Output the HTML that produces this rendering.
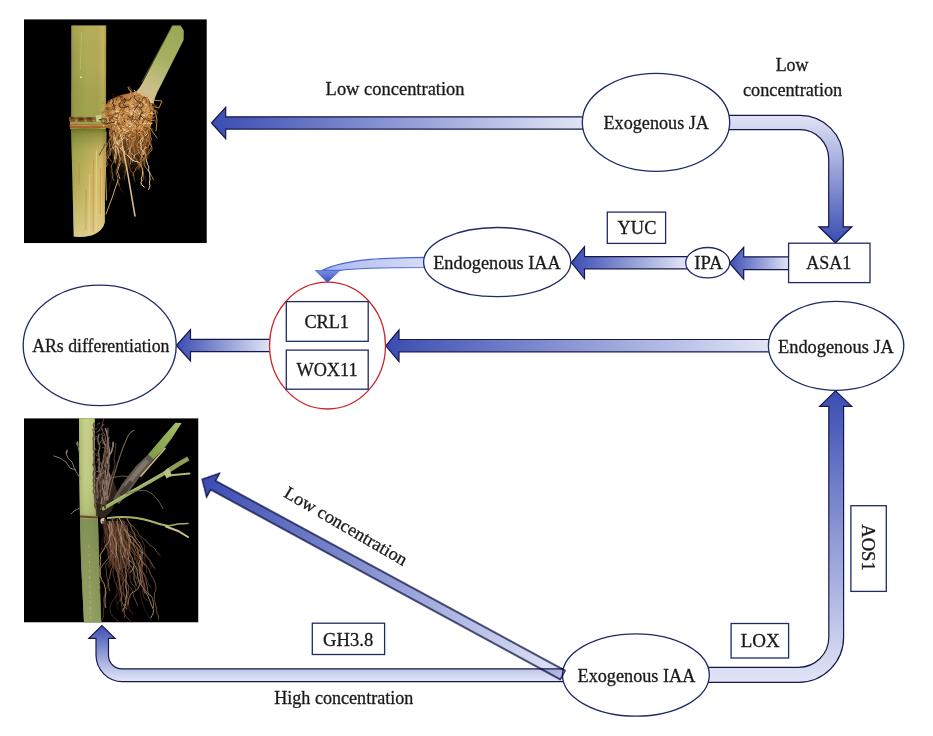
<!DOCTYPE html>
<html>
<head>
<meta charset="utf-8">
<title>JA and IAA crosstalk in adventitious root differentiation</title>
<style>
html,body{margin:0;padding:0;background:#fff;}
body{width:933px;height:736px;overflow:hidden;}
svg{display:block;will-change:transform;}
text{font-family:"Liberation Serif",serif;font-size:18.1px;fill:#1a1a1a;stroke:#1a1a1a;stroke-width:0.3px;}
.sh{stroke:#15184c;stroke-width:1.2;stroke-linejoin:miter;}
.ol{fill:#fff;stroke:#1f2a66;stroke-width:1.3;}
</style>
</head>
<body>
<svg width="933" height="736" viewBox="0 0 933 736">
<defs>
  <linearGradient id="gA" gradientUnits="userSpaceOnUse" x1="211" y1="0" x2="583" y2="0">
    <stop offset="0" stop-color="#3a4cb2"/><stop offset="1" stop-color="#e2e5f6"/>
  </linearGradient>
  <linearGradient id="gB" gradientUnits="userSpaceOnUse" x1="0" y1="115" x2="0" y2="243">
    <stop offset="0" stop-color="#e2e5f6"/><stop offset="1" stop-color="#3a4cb2"/>
  </linearGradient>
  <linearGradient id="gC" gradientUnits="userSpaceOnUse" x1="729" y1="0" x2="789" y2="0">
    <stop offset="0" stop-color="#3a4cb2"/><stop offset="1" stop-color="#e2e5f6"/>
  </linearGradient>
  <linearGradient id="gD" gradientUnits="userSpaceOnUse" x1="571" y1="0" x2="686" y2="0">
    <stop offset="0" stop-color="#3a4cb2"/><stop offset="1" stop-color="#e2e5f6"/>
  </linearGradient>
  <linearGradient id="gE" gradientUnits="userSpaceOnUse" x1="322" y1="0" x2="424" y2="0">
    <stop offset="0" stop-color="#a9b5ec"/><stop offset="0.35" stop-color="#bcc5f0"/><stop offset="1" stop-color="#d6dbf6"/>
  </linearGradient>
  <linearGradient id="gE2" gradientUnits="userSpaceOnUse" x1="0" y1="270" x2="0" y2="282">
    <stop offset="0" stop-color="#7f92e4"/><stop offset="1" stop-color="#3a50c4"/>
  </linearGradient>
  <linearGradient id="gF" gradientUnits="userSpaceOnUse" x1="385" y1="0" x2="769" y2="0">
    <stop offset="0" stop-color="#3a4cb2"/><stop offset="1" stop-color="#e2e5f6"/>
  </linearGradient>
  <linearGradient id="gG" gradientUnits="userSpaceOnUse" x1="176" y1="0" x2="270" y2="0">
    <stop offset="0" stop-color="#3a4cb2"/><stop offset="1" stop-color="#e2e5f6"/>
  </linearGradient>
  <linearGradient id="gH" gradientUnits="userSpaceOnUse" x1="0" y1="391" x2="0" y2="683">
    <stop offset="0" stop-color="#3a4cb2"/><stop offset="1" stop-color="#e2e5f6"/>
  </linearGradient>
  <linearGradient id="gI" gradientUnits="userSpaceOnUse" x1="0" y1="625" x2="0" y2="681">
    <stop offset="0" stop-color="#3a4cb2"/><stop offset="1" stop-color="#e2e5f6"/>
  </linearGradient>
  <linearGradient id="gJ" gradientUnits="userSpaceOnUse" x1="0" y1="0" x2="411" y2="0">
    <stop offset="0" stop-color="#3a4cb2"/><stop offset="1" stop-color="#e2e5f6"/>
  </linearGradient>
<!-- PDEFS -->
  <filter id="soft" x="-5%" y="-5%" width="110%" height="110%" color-interpolation-filters="sRGB"><feGaussianBlur stdDeviation="0.45"/></filter>
  <clipPath id="cp1"><rect x="24" y="19.2" width="182.85" height="224"/></clipPath>
  <clipPath id="cp2"><rect x="24" y="418.2" width="174.5" height="204.35"/></clipPath>
  <linearGradient id="st1h" gradientUnits="userSpaceOnUse" x1="71" y1="0" x2="106.3" y2="0">
    <stop offset="0" stop-color="#8a8840"/><stop offset="0.1" stop-color="#9c9c4a"/><stop offset="0.45" stop-color="#aeac58"/><stop offset="0.75" stop-color="#b0a856"/><stop offset="0.92" stop-color="#c6b466"/><stop offset="1" stop-color="#a08a3c"/>
  </linearGradient>
  <linearGradient id="st1v" gradientUnits="userSpaceOnUse" x1="0" y1="25" x2="0" y2="118">
    <stop offset="0" stop-color="#c4b25a" stop-opacity=".4"/><stop offset="0.35" stop-color="#b0ac58" stop-opacity=".1"/><stop offset="0.7" stop-color="#8c9440" stop-opacity=".3"/><stop offset="1" stop-color="#8c9440" stop-opacity=".4"/>
  </linearGradient>
  <linearGradient id="st1lh" gradientUnits="userSpaceOnUse" x1="71" y1="0" x2="105.5" y2="0">
    <stop offset="0" stop-color="#9a9848"/><stop offset="0.12" stop-color="#a8a652"/><stop offset="0.4" stop-color="#bdb25c"/><stop offset="0.65" stop-color="#d2b866"/><stop offset="0.88" stop-color="#dec272"/><stop offset="1" stop-color="#b8944a"/>
  </linearGradient>
  <linearGradient id="st1lv" gradientUnits="userSpaceOnUse" x1="0" y1="128" x2="0" y2="237">
    <stop offset="0" stop-color="#566018" stop-opacity=".85"/><stop offset="0.05" stop-color="#707a2c" stop-opacity=".7"/><stop offset="0.2" stop-color="#969a46" stop-opacity=".4"/><stop offset="0.45" stop-color="#c8b460" stop-opacity=".15"/><stop offset="0.7" stop-color="#d8c47a" stop-opacity=".5"/><stop offset="1" stop-color="#e2d092" stop-opacity=".85"/>
  </linearGradient>
  <linearGradient id="br1" gradientUnits="userSpaceOnUse" x1="180" y1="26" x2="145" y2="98">
    <stop offset="0" stop-color="#9aa856"/><stop offset="0.45" stop-color="#a5b060"/><stop offset="0.8" stop-color="#c6bd84"/><stop offset="1" stop-color="#d2bf8e"/>
  </linearGradient>
  <radialGradient id="rb1" gradientUnits="userSpaceOnUse" cx="132" cy="114" r="27">
    <stop offset="0" stop-color="#d29c60"/><stop offset="0.7" stop-color="#b87c40"/><stop offset="1" stop-color="#8e5a26"/>
  </radialGradient>
  <linearGradient id="rbf" gradientUnits="userSpaceOnUse" x1="0" y1="130" x2="0" y2="178">
    <stop offset="0" stop-color="#a87038" stop-opacity=".85"/><stop offset="0.45" stop-color="#90602c" stop-opacity=".5"/><stop offset="1" stop-color="#805020" stop-opacity="0"/>
  </linearGradient>
  <linearGradient id="sh2" gradientUnits="userSpaceOnUse" x1="150" y1="458" x2="180" y2="423">
    <stop offset="0" stop-color="#7f9c48"/><stop offset="0.5" stop-color="#8fae54"/><stop offset="1" stop-color="#a6bc68"/>
  </linearGradient>
  <linearGradient id="st2h" gradientUnits="userSpaceOnUse" x1="79" y1="0" x2="100" y2="0">
    <stop offset="0" stop-color="#a4b468"/><stop offset="0.3" stop-color="#c8d08a"/><stop offset="0.6" stop-color="#bcc67e"/><stop offset="1" stop-color="#8c9c56"/>
  </linearGradient>
  <linearGradient id="st2v" gradientUnits="userSpaceOnUse" x1="0" y1="418" x2="0" y2="623">
    <stop offset="0" stop-color="#ccd48c" stop-opacity=".35"/><stop offset="0.3" stop-color="#b4c078" stop-opacity=".2"/><stop offset="0.46" stop-color="#a0b066" stop-opacity=".5"/><stop offset="0.5" stop-color="#76864c" stop-opacity=".85"/><stop offset="1" stop-color="#8c9a5e" stop-opacity=".85"/>
  </linearGradient>
<!-- /PDEFS -->
</defs>
<rect width="933" height="736" fill="#fff"/>

<!-- PHOTO1 -->
<g id="photo1" clip-path="url(#cp1)">
<rect x="24" y="19.2" width="182.85" height="224" fill="#000"/>
<g filter="url(#soft)">
<path fill="url(#st1h)" d="M71.3,25.5 L106.2,25.5 L106,118 L71.2,118 Z"/>
<path fill="url(#st1v)" d="M71.3,25.5 L106.2,25.5 L106,118 L71.2,118 Z"/>
<path fill="url(#st1lh)" d="M71,118 L105.6,118 L104.8,222 Q103.5,230.5 92,235.3 Q82,238 73.8,236.6 L71.6,150 Z"/>
<path fill="url(#st1lv)" d="M71,118 L105.6,118 L104.8,222 Q103.5,230.5 92,235.3 Q82,238 73.8,236.6 L71.6,150 Z"/>
<path fill="none" stroke="#d0c880" stroke-width="1" opacity=".5" d="M81.5,32 L80.3,70"/>
<path fill="#e8e4c0" d="M80,76.5 h1.8 v1.6 h-1.8 Z"/>
<path fill="none" stroke="#b87a3a" stroke-width=".8" opacity=".55" d="M79.3,162 L79,185 M93.5,160 L93,232 M100.5,168 L100.3,215 M86,190 L85.8,230"/>
<path fill="none" stroke="#efe0a0" stroke-width="1.2" opacity=".5" d="M96.5,150 L96,232 M89.5,175 L89,234"/>
<path fill="#98a04c" d="M70,117 L106,117 L106,129 L70,129 Z"/>
<path fill="#80542a" d="M68.8,117.2 L72,116.6 L76,117.3 L80,116.8 L85,117.4 L90,116.9 L95.5,117.6 L95.8,121.3 L91,121.9 L86,121.2 L81,122 L76,121.3 L72,121.9 L69,121.3 Z"/>
<path fill="#4a2e12" opacity=".85" d="M70,117.6 L74,117.4 L73.5,119 L70.5,119.2 Z M78,118.4 L83,118 L83.5,120 L78.5,120.6 Z M87,117.6 L92,118 L91.5,119.6 L87.5,119.4 Z"/>
<path fill="#b49a64" opacity=".8" d="M75,119.4 L77.5,119.2 L77.6,121 L75.2,121.1 Z M84.5,119.6 L86.5,119.5 L86.6,121 L84.6,121.1 Z M92.5,119.8 L94.8,119.6 L94.9,121.2 L92.6,121.3 Z"/>
<path fill="#cfc888" d="M95.8,115.6 L101.3,115 L101,121.3 L96.6,121.8 Z"/>
<path fill="#a8682e" d="M69.6,124.2 L76,123.8 L84,124.4 L92,123.9 L100,124.5 L110,124.2 L110,127.6 L100,128 L92,127.5 L84,128.2 L76,127.6 L69.8,128 Z"/>
<path fill="none" stroke="#d29a58" stroke-width=".9" opacity=".75" d="M71,125.2 L84,125.5 L96,125.1 L108,125.4"/>
<path fill="none" stroke="#6e4218" stroke-width=".8" opacity=".7" d="M70,127.8 L84,128.2 L100,127.9"/>
<path fill="url(#br1)" d="M172.4,25.6 L180.6,25.6 L183.8,30.5 L183.6,40 L157,93 Q154.5,98 153.5,104 L135,93 Q140,88 143,82 Z"/>
<path fill="none" stroke="#6e7f38" stroke-width="1.2" opacity=".6" d="M172.4,26 L142,82"/>
<path fill="url(#rb1)" d="M105.5,118 Q104,108 108,101 Q118,95 128,93.5 Q136,91 142,93 Q150,97 152.5,106 Q154,116 151,126 Q147,134 140,136 L118,136 Q108,132 105.5,118 Z"/>
<path fill="url(#rbf)" d="M109,130 L150,130 L148,158 L141,178 L122,178 L113,160 Z"/>
<ellipse cx="137.5" cy="114" rx="7.5" ry="9" fill="#e0b888" opacity=".9"/>
<ellipse cx="138" cy="114.5" rx="3.2" ry="4.6" fill="#c09060" opacity=".8"/>
<path fill="none" stroke="#e6d4a8" stroke-width="2" opacity=".8" d="M137,92 Q146,95 152,103"/>
<path fill="none" stroke="#3e2008" stroke-width="0.6" stroke-linecap="round" stroke-linejoin="round" d="M124.5,121.6 L124.7,119.6 L123.2,118.2 L122.1,116.6 M120.4,108.8 L119.9,110.8 L119.6,112.7 L117.7,113.5 L115.7,113.5 L114.4,111.9 L114.9,110 L114.4,108.1 M139.2,109.8 L139.7,111.7 L138.5,113.3 L136.5,113 L134.7,113.8 L133.8,115.6 L131.8,115.9 L129.8,115.6 M134.2,133.3 L132.2,133.6 L130.5,134.5 L128.5,134.4 L126.5,134.5 M138.1,116.5 L138.4,118.5 L137.1,120 L137.1,122 L136,123.6 L136.5,125.6 M134.3,124.6 L132.4,125 L130.5,124.3 L128.5,123.8 M123.8,100.1 L123.9,102.1 L124.8,103.8 L126.1,105.4 M122.6,100.5 L123.2,98.6 L122.3,96.9 L120.3,96.5 L118.3,96.4 L116.8,95 L115.3,93.7 M113.7,104 L112.2,102.7 L110.9,101.1 L109,101.4 L107.2,102.3 M123.9,128 L123.7,130 L121.9,131 L120.2,129.8 L118.9,128.4 L117.3,127.1 L117.7,125.2"/>
<path fill="none" stroke="#ecc48c" stroke-width="1" stroke-linecap="round" stroke-linejoin="round" d="M143.2,117.7 L144.9,118.7 L146.8,117.9 L148.7,117.3 M124.5,128.5 L124,130.5 L122.1,131 L121.5,132.9 L122.9,134.4 L124.3,135.8 M129.3,134.6 L129.9,136.5 L131.2,138.1 L133.2,138 L134.9,137 L136.9,136.7 M122.2,133.4 L124.2,133.8 L125.5,132.2 L125.8,130.3 M113.8,103.7 L115.8,104.2 L117.4,103 L118.9,101.8 L120.9,101.5 L122.2,100 M128.4,119.2 L126.8,120.3 L125.4,121.8 L124,123.2 L123.5,125.2 L123,127.1 M132.4,104.6 L132.4,106.6 L133.9,108 L133.5,109.9 L134.9,111.4 L134.7,113.3 L133.8,115.1 M144.3,124.3 L143.5,126.1 L142.2,127.6 L141.1,129.3 M124.4,117 L125,118.9 L125.7,120.8 L127.6,121.4 L129.4,120.6 L131.2,121.4 L133,120.5 L134.7,121.6 M114.3,134.8 L115,136.7 L115.8,138.6 L116.2,140.5 L116.2,142.5 L116.5,144.5 L117.2,146.4 L117,148.4 L116.7,150.3 M112.9,131.8 L114.3,133.2 L116,134.3 L117.8,135.2 L119.4,136.3 L121.2,137.2 L123,138.1 L125,138.3 L126.9,139.1 L128.6,140.2 M148.3,135.4 L147.3,137.2 L146.4,139 L145.7,140.9 L145.9,142.8 L145.5,144.8 L145.3,146.8 L144.6,148.7 L144.2,150.6 L143.8,152.6 L143.7,154.6"/>
<path fill="none" stroke="#e0a868" stroke-width="0.8" stroke-linecap="round" stroke-linejoin="round" d="M112.9,100.2 L111.2,101.1 L110.3,102.9 L109.2,104.6 L109.7,106.6 L110.5,108.4 L111.1,110.3 M127.8,104.8 L126.2,103.6 L126.4,101.6 L127.8,100.2 L129.1,98.6 L129.2,96.6 M115.5,107.9 L114.4,106.2 L112.5,105.6 L111.1,107 L109.2,106.5 L107.2,106.1 L105.2,105.9 M143.2,128.7 L141.9,130.3 L140.1,131.1 L139.1,132.9 L137.2,133.5 M125.2,117.9 L123.3,117.4 L121.9,118.8 L122.5,120.7 L123.6,122.3 L125.6,122.4 L127.6,122 L128.9,120.5 M127.3,111.1 L127.8,113 L127.3,114.9 L128.6,116.5 M147.5,111.7 L149.5,111.2 L151.4,111.6 L152.7,110.1 L152.7,108.1 L153.9,106.6 M110,123.5 L109.3,121.6 L107.3,121.2 L105.3,121.4 L103.4,122 L101.6,121.2 L100.4,119.6 M112.1,117.6 L113.2,119.3 L112.8,121.2 L110.9,122 M132,134.3 L131.5,132.4 L131.7,130.4 L130.5,128.9 L128.5,128.4"/>
<path fill="none" stroke="#f4d8a4" stroke-width="0.8" stroke-linecap="round" stroke-linejoin="round" d="M110.9,108.2 L112,109.9 L113.6,111.1 L115,112.5 L117,112.2 L117.8,110.3 L117.3,108.4 L117.7,106.4 M132.7,108.5 L134.6,109.3 L136.6,109.2 L138.5,108.6 M128.9,123.1 L126.9,123.5 L125.4,124.9 L123.8,126 L121.9,125.5 L120.5,124.1 M144.2,102 L142.3,101.5 L140.5,100.6 L138.8,99.5 L137.5,98 L135.7,97.2 M131.7,115.1 L131.3,113.2 L129.5,112.4 L127.7,111.4 L126,112.3 L125.5,114.2 L123.8,115.4 L122.1,116.3 M146.2,105 L144.6,103.8 L142.7,103.3 L140.8,104 L140,105.8 M123.4,127.8 L122.5,129.6 L121.7,131.4 L121.5,133.4 L120.9,135.3 L120.5,137.3 L119.5,139 L119.4,141 L118.4,142.8 L116.9,144.1 M111.8,133.6 L111.7,135.6 L111.5,137.6 L111.7,139.6 L112.8,141.2 L114,142.9 L115.2,144.4 L115.9,146.3 L117,148 L118.1,149.6 L118.8,151.5 L118.8,153.5 L119.2,155.5 L119.8,157.4 L120.2,159.3 L119.7,161.3 L120.1,163.2 L119.5,165.1 L118.6,166.9 L118.2,168.9 L117.7,170.8 L117.7,172.8 L118.7,174.5 L119.1,176.5 L119.7,178.4"/>
<path fill="none" stroke="#3e2008" stroke-width="0.8" stroke-linecap="round" stroke-linejoin="round" d="M106.9,118.7 L105,119.2 L103,118.7 L101.1,119.4 L99.2,119.8 M122.5,100.8 L120.9,99.6 L120.6,97.6 L122.2,96.3 M138.9,116.2 L137.1,116.9 L135.2,117.4 L133.4,116.6 L131.6,117.5 L129.6,117.5 L128.4,115.9 L127.7,114 M138.5,120 L136.5,120.6 L134.8,119.6 L133,118.7 L131,118.6 M129.1,125.6 L127.7,127 L128.2,128.9 L129.3,130.6 L131,131.7 M118.6,123.3 L118.7,125.3 L119.1,127.2 L120.7,128.5 L121.4,130.3 L123.4,130.7 M129,118.5 L127.3,119.6 L126.4,121.4 L125.2,123 L124.3,124.8 L122.6,125.7 M131.2,122.3 L133.1,122.9 L135.1,122.8 L136.7,121.6 L138.6,122 M120.6,114.8 L122.5,115.6 L122.7,117.6 L124.5,118.6 L124.4,120.6 L124.7,122.5 M149.2,108.1 L150.8,109.4 L150.6,111.4 L149.6,113.2 L150.4,115 L151.8,116.4 L153.7,116.9 L155.3,115.6"/>
<path fill="none" stroke="#d89e60" stroke-width="0.8" stroke-linecap="round" stroke-linejoin="round" d="M142.4,102.1 L143.5,103.8 L144.9,105.2 L145.4,107.2 M145.6,117.8 L143.9,116.9 L142.8,115.1 L140.9,114.6 L139,114.2 L137.5,112.8 L136.3,111.2 M120.6,99.7 L119.2,101.1 L117.4,101.9 L115.6,100.9 L113.6,101.1 L111.7,101.6 M129.7,98 L129.4,96 L130.6,94.4 L130.8,92.4 L130.5,90.5 L129.3,88.9 L127.8,87.6 M131.9,95.1 L132.3,93.2 L131.2,91.5 L129.6,90.4 L128.6,88.7 L129.1,86.7 M134.1,121.8 L132.5,123 L130.7,123.7 L129.2,122.3 L127.3,121.6 L125.5,120.7 L124.7,118.9 M134.9,124.1 L132.9,124 L130.9,123.7 L128.9,123.5 L127,123 L125,122.6 L123.1,122.4 L121.1,122.1 M132.3,136.6 L133,138.5 L132.9,140.5 L132.9,142.5 L133.1,144.5 L134,146.3 L133.7,148.2 L133.1,150.2 L132,151.8 L131.8,153.8 L130.8,155.5 M133.1,137.6 L133.9,139.5 L134.8,141.3 L135.6,143.1 L136.7,144.7 L137.2,146.7 L138.2,148.4 L138.3,150.4 L138.9,152.3 L140.2,153.8 L141.1,155.6 L142.6,156.9 L143.8,158.6 L144.1,160.6 L144.1,162.6 L144.2,164.6 L145.2,166.3 L146,168.1 L147.4,169.5 L148.3,171.3 L149.7,172.8 L150.6,174.5 L151.7,176.2 L152.8,177.9 L153.4,179.8 M109.6,132.3 L109.5,134.3 L110.1,136.2 L110.5,138.2 L110.1,140.1 L109.3,141.9 L109.6,143.9 L109.5,145.9 L109.9,147.9 L111,149.6 L110.9,151.6 L110.6,153.5 L109.9,155.4 M111.2,136.8 L110.2,138.5 L109.2,140.3 L108.7,142.2 L107.4,143.7 L107,145.7 L106,147.5 L105,149.1 L105.1,151.1 L105,153.1 L105.5,155 L106.5,156.8 L106.4,158.8 L106.5,160.8 L107.1,162.7 L107.1,164.7 L106.1,166.5"/>
<path fill="none" stroke="#c08244" stroke-width="0.8" stroke-linecap="round" stroke-linejoin="round" d="M108.6,124 L110.2,125.2 L110.4,127.2 L111.4,128.9 L111.5,130.9 L111.3,132.9 L110.7,134.8 L110.2,136.8 M136.2,96.9 L137.5,98.5 L138.2,100.4 L139,102.2 L138.4,104.1 M115.9,126.1 L116.8,128 L117.4,129.9 L119.3,130.4 M108.6,105.8 L107.1,104.5 L105.2,104 L103.3,103.4 L102.6,101.6 M117.7,124.1 L119.7,124 L121.7,123.8 L123.2,122.5 M127,134.4 L125.2,135.1 L124.1,136.8 L124.4,138.8 L122.9,140.2 M135.6,113 L133.6,113.1 L131.8,112.3 L129.9,111.7 L128,112.4 M116.6,116.4 L115.4,114.7 L113.5,114.2 L112,115.6 L110,115.8 L108.2,115.1 L107.3,113.3 M118.6,121.9 L117.4,120.3 L115.6,119.4 L115.3,117.5 L116.1,115.6 L116.7,113.7 L115.9,111.9 M138.9,121.4 L140.8,122.2 L142.8,122.1 L144.7,122.5 L146.2,123.9 M140.1,130.1 L140.6,132 L139.5,133.7 L140,135.7 L140.6,137.5 L142.5,138.2 L143,140.2 L142.1,141.9 M139.2,135.9 L138.9,137.8 L137.9,139.5 L137.2,141.4 L135.8,142.9 L134.3,144.2 L132.6,145.3 L131,146.4 L129.6,147.8 L128.2,149.3 L126.4,150.2 L125.2,151.7 L124.3,153.6 L123.5,155.4 L122.1,156.8 L121.7,158.7 L122.4,160.6 L122.9,162.5 M117.2,131.5 L116.4,133.4 L115.7,135.2 L115,137.1 L115.5,139 L115.9,141 L116.3,142.9 L116.8,144.9 L117.7,146.7 L117.5,148.7 L116.4,150.4 L115.5,152.1 L115.4,154.1 L115.3,156.1 L114.6,158 L114.6,160 L113.6,161.7 L112.7,163.5 L111.6,165.2 L111.3,167.2 L111.9,169.1 L111.8,171.1 L112.2,173 L112.9,174.9 L112.6,176.9 L112.8,178.9 L114,180.5 M124.9,129.4 L125,131.4 L124.5,133.3 L123.6,135.1 L122.4,136.7 L122,138.6 L121.2,140.5 L119.9,142 L119.3,143.9 L118.2,145.6 L118.4,147.6 L118,149.5 L117.5,151.5 L118.2,153.3 L119.1,155.1 L120,156.9 L120,158.9 L119.7,160.9 L119,162.8 L118.3,164.7 L117.7,166.6 L117,168.4 L116.3,170.3 L116.1,172.3 L116.3,174.3 L117.4,176 L117.8,177.9 L117.6,179.9 L117.8,181.9 L118.9,183.6 L119.3,185.5 M140,136.2 L139,138 L139.2,140 L138.8,141.9 L137.8,143.7 L137.5,145.6 L138.3,147.5 L139,149.4 L140.2,150.9 L141.3,152.6 L141.7,154.6"/>
<path fill="none" stroke="#b4783a" stroke-width="0.6" stroke-linecap="round" stroke-linejoin="round" d="M110,117.2 L111.5,118.5 L111.1,120.5 L109.5,121.7 L108.6,123.5 L108.2,125.4 M133.5,123.3 L132.3,125 L132.4,126.9 L133.5,128.6 L135.4,129.1 L137.3,129.7 L139,130.8 M111.8,127.3 L113.7,126.8 L114.8,125.1 L115.8,123.4 M130.4,133.5 L129.6,135.3 L130.1,137.2 L129.5,139.1 L130.1,141.1 L132,141.7 L133.5,140.5 L135.2,139.4 M113.6,128.2 L111.7,127.7 L110.1,126.5 L108.3,127.3 L106.3,127.6 L104.4,126.9 M107.9,115.6 L109.5,114.4 L111.5,114.6 L112.7,113 L114.7,113 M114.8,124.4 L113,125.1 L112.7,127.1 L114,128.6 L113.5,130.5 M122.7,106.7 L124.7,106.5 L125.8,104.8 L125.4,102.8 L124,101.4 L123.7,99.4 M137.2,131.7 L135.3,131.2 L133.4,131.9 L133,133.8 L133.6,135.7 M121.9,106.1 L120.9,107.8 L121.9,109.6 L123.3,111 L125.3,111.1 M145.2,122.7 L145.7,124.7 L146.6,126.4 L145.4,128.1 L143.5,128.5 L141.6,129 L140.3,130.5 M125.8,136.4 L126,138.4 L126.7,140.3 L127.1,142.2 L127.8,144.1 L128.3,146 L129.5,147.7 L129.5,149.7 L130,151.6 L129.6,153.6 L130.1,155.5 L129.8,157.5 L128.6,159.1 L127.9,161 L128.4,162.9 L129.1,164.8 L129.3,166.8 L130.1,168.7 L130.7,170.6 L132,172.1 L133.1,173.7 L133.6,175.7 L134.1,177.6 L134.2,179.6 L135.1,181.4 M125.1,127 L124.5,129 L123.2,130.5 L122.3,132.3 L122,134.3 L122.3,136.3 L122.3,138.3 L121.4,140 L119.9,141.4 L118.8,143.1 L118.1,144.9 L117.9,146.9 L118.6,148.8 L119.1,150.7 L120.4,152.3 L121.6,153.8 L122.8,155.5 L124.4,156.6"/>
<path fill="none" stroke="#c08244" stroke-width="0.6" stroke-linecap="round" stroke-linejoin="round" d="M141.3,110 L139.3,110.6 L137.4,110 L135.7,110.9 L134.7,112.7 L134.2,114.6 L132.4,115.5 M130.7,104.8 L132.5,105.8 L133.9,107.2 L135.2,108.7 L136.7,110 L137.2,112 M123.9,114.2 L124.3,112.3 L123.9,110.3 L124.5,108.4 M128.8,95.1 L126.8,95.3 L125.8,97 L124.4,98.4 L122.5,99.1 M128.7,123.7 L129.9,125.3 L130.6,127.2 L132.1,128.6 M125.5,98.8 L125,100.8 L125.9,102.6 L124.7,104.2 L123,105.1 M118,104.9 L118.9,106.7 L118.2,108.6 L118.7,110.5 M143.2,126 L141.4,126.8 L139.9,128.1 L137.9,128.4 L136,127.9 L134.8,126.2 M142.8,137.2 L141.5,138.8 L140.2,140.3 L139.2,142 L137.7,143.4 L136.1,144.5 L134.2,145.1 L132.7,146.5 M124.5,135.5 L124,137.4 L124.2,139.4 L123.5,141.3 L123.6,143.3 L124.8,144.9 L125.8,146.6 L126.9,148.3 L126.8,150.3 L125.8,152 L124.5,153.5 L124.4,155.5 L124.2,157.5 L123.9,159.5 L123.9,161.5 L124.9,163.2 L125.8,165 L126.6,166.8 L126.3,168.8 L125.5,170.6 L124.2,172.1"/>
<path fill="none" stroke="#d89e60" stroke-width="0.6" stroke-linecap="round" stroke-linejoin="round" d="M112.3,119.3 L114.3,119.4 L116.1,118.6 L117.8,117.5 L119,115.9 L121,115.7 L122.2,117.3 M146.2,114.4 L144.3,115 L142.5,114.1 L140.5,114.1 L139.4,115.8 L137.8,117 L135.9,117.7 M130.4,120.1 L132.1,119.1 L134.1,119.1 L136,119.8 L138,119.6 L138.9,117.8 L140.8,117.4 M115.2,116.6 L115,118.6 L116,120.4 L117,122.1 L117.2,124.1 L118.9,125.2 M150,112.1 L151.9,112.5 L153.7,111.6 L155.3,110.5 L157.1,111.4 L157.3,113.4 M107.5,119.1 L108.6,120.7 L108.6,122.7 L107.4,124.3 L105.7,125.4 M136.9,97.2 L138.7,96.3 L140.7,96.2 L142.6,95.5 L144.4,96.4 L145.8,97.8 L147.7,97.3 L148.6,95.5 M121.8,102.1 L123.8,102.6 L125.6,103.5 L127.5,104 L129.4,104.6 L131.2,105.5 L133.2,105.9 L134.8,104.8 M113.8,127.3 L115.3,128.7 L115.9,130.6 L115.9,132.6 L116.1,134.6 L117.2,136.2 L117.4,138.2 L117.5,140.2 L118.6,141.9 L119.9,143.4 L120.8,145.2 L120.8,147.2 L120.9,149.2 L120.7,151.2 L121.3,153.1 L122.4,154.8 L122.5,156.8 L122.9,158.7 L124.1,160.3"/>
<path fill="none" stroke="#9a6228" stroke-width="1" stroke-linecap="round" stroke-linejoin="round" d="M116.9,122.2 L116,124 L116.9,125.7 L118.6,126.7 L120.6,126.1 L122.2,124.9 L122.1,122.9 M112.4,111.1 L111.2,112.8 L111.9,114.6 L111.8,116.6 L111.9,118.6 L113.7,119.7 M136.7,116 L135.9,117.8 L135.3,119.7 L136.5,121.2 M123.6,113.2 L124.8,114.8 L124.8,116.8 L124.8,118.8 M137.4,112.1 L137.6,110.1 L138.9,108.6 L140.9,108.8 L142.3,110.2 L143.6,111.7 L145.4,112.6 M110.9,107.1 L110.1,108.9 L109,110.6 L107,110.7 L105.8,112.3 L103.9,112.9 L101.9,112.8 M135.6,128.5 L135.9,130.5 L136.4,132.4 L136.3,134.4 L136.2,136.4 L135.1,138.1 L135.1,140.1 L135.1,142.1 L134.3,143.9 L133.4,145.7 L132.6,147.6 L132.8,149.6 L133.7,151.3 L134.9,153 L135,155 L134.2,156.8 L134.2,158.8 L133.3,160.6 M114,132.3 L114.3,134.3 L113.7,136.2 L112.5,137.8 L112.6,139.8 L112,141.7 L111.5,143.7 L110.5,145.4 L109.7,147.2 L109,149.1 L108.2,150.9 L107.1,152.6 L107.1,154.6 L108.2,156.3 L109,158.1 L110.2,159.7 L111.4,161.3 M133.7,138 L134.3,139.9 L135.6,141.4 L136.7,143.1 L137.5,144.9 L138.5,146.6 L140.1,147.9 L141.4,149.4 L142.5,151.1 L142.4,153.1 L141.7,155 L141.9,157 L141.4,158.9 L140.7,160.8 L141,162.7 L141.7,164.6 L141.6,166.6 L142.5,168.4 L142.7,170.4 L142.9,172.4 L143.6,174.3"/>
<path fill="none" stroke="#5a3010" stroke-width="0.8" stroke-linecap="round" stroke-linejoin="round" d="M132.8,119.8 L133.2,121.8 L134.8,123 L136.6,123.9 M115.8,106 L115.3,108 L115,110 L114.8,111.9 L116.2,113.4 L118.2,113.2 L120,112.3 M109.9,118.9 L108.1,119.8 L106.2,120.6 L105.9,122.6 L104,123.2 L102.1,122.6 L101.6,120.6 L99.9,119.7 M126.2,113.6 L126.5,115.5 L128.2,116.6 L130.2,116.4 L132.2,116.2 L134,116.9 M139,124.8 L141,124.5 L142.6,125.7 L143.7,127.4 L145.7,127.7 M124.6,99.6 L126.5,100.4 L128.4,100.8 L130.1,99.8 L131.1,98 M125.4,111.3 L124.3,113 L122.6,114 L122.8,116 M120.7,132.4 L119.6,134.1 L119.9,136 L120.8,137.9 L122.8,138 M132.3,108.4 L131.9,110.4 L133.3,111.8 L133.1,113.8 L133.8,115.7 L135.7,116.4 M139.3,136.2 L139.3,138.2 L138.5,140.1 L137.3,141.7 L135.7,142.8 L134.5,144.4 L134.4,146.4 L133.3,148.1 L132.8,150 L132,151.8 L130.7,153.4 L130.5,155.4 L129.7,157.2 L128.6,158.9 L127,160 L125.2,161 M125.2,134.4 L125.1,136.4 L125.4,138.4 L125.4,140.4 L125.9,142.3 L126.7,144.1 L127.5,146 L128.9,147.4 L129.9,149.1 L130.2,151.1 L131.1,152.9 L131.9,154.7 L133.4,156 L135.2,156.9 L136.8,158.1 L137.9,159.8 L138.6,161.7 L139.1,163.6 L138.8,165.6 L139.2,167.5 L139.4,169.5 L140.6,171.1 L142,172.5 L143.1,174.2 L144.3,175.8 L145.3,177.5 L145.2,179.5 L145.6,181.5 M111.3,126.5 L111.6,128.5 L112,130.5 L112.7,132.4 L113,134.3 L113.1,136.3 L112.3,138.2 L111.3,139.9 L110,141.4 L108.3,142.5 L106.5,143.4 L104.7,144.3 L104.1,146.2 L103.4,148 L102.1,149.6 L101.3,151.5 L100.1,153 L99.7,155 M148.3,127.1 L147.2,128.8 L146,130.3 L144.7,131.8 L143.3,133.3 L141.9,134.7 L140.3,136 L139.3,137.7 L139.3,139.7 L140.2,141.5 L141.7,142.8 L143.2,144.2 L144.8,145.3 L146.7,146 L148.3,147.3 L148.6,149.3 L148.3,151.2 L148.5,153.2 L148,155.2 L148.2,157.1 L149.1,158.9"/>
<path fill="none" stroke="#5a3010" stroke-width="1" stroke-linecap="round" stroke-linejoin="round" d="M132.9,107.3 L134.9,106.9 L136.8,107.4 L137.6,109.3 L137.2,111.3 L137.8,113.2 L137.7,115.2 L139.2,116.5 M127.8,104.2 L128.2,106.1 L129.1,107.9 L129.9,109.7 M138.9,108.6 L140.5,107.5 L140.9,105.5 L140.1,103.6 L140.4,101.6 M132.4,126.8 L133.5,128.5 L134.8,130 L136.7,130.5 L137.3,132.4 L138.6,133.9 L140.5,133.5 M114.6,107.1 L115.6,105.4 L117.6,104.9 L119.1,103.6 L120.9,102.7 L121.4,100.8 L123.1,99.8 L125.1,99.5 M115.3,117 L113.3,117.1 L111.4,117.8 L110.6,119.7 L109.1,120.9 L109.1,122.9 M121.7,126.5 L121.4,128.5 L120.2,130.1 L118.6,131.3 L117,132.5 L115.9,134.1 L115.3,136 L115.1,138 L114,139.7 L113.3,141.6 L113.1,143.6 L113.2,145.6 L114,147.4 L113.7,149.3 L114.5,151.2 M113.9,130.9 L115,132.5 L116,134.3 L117.7,135.3 L118.3,137.3 L119.3,139 L120.6,140.5 L122.1,141.8 M147.8,131.8 L147.7,133.8 L147.3,135.7 L146.7,137.7 L147.1,139.6 L147.7,141.5 L147.4,143.5 L146.9,145.4 M125.2,134.3 L124.1,135.9 L123.3,137.8 L123,139.8 L123.5,141.7 L124.2,143.6 L124.1,145.6 L124.9,147.4 L126.2,149 L127.5,150.5 L128.9,151.9 L129.8,153.7 L129.8,155.7 L130.8,157.4 L132.3,158.7"/>
<path fill="none" stroke="#ecc48c" stroke-width="0.8" stroke-linecap="round" stroke-linejoin="round" d="M122.2,120.7 L122.7,118.8 L123.1,116.8 L124.1,115.1 L125.6,113.7 L127.5,113.4 L129.4,114.2 L131.3,113.7 M110.1,116.6 L111.8,115.6 L112.2,113.7 L112.2,111.7 M135.9,127 L134.1,126.1 L132.8,124.6 L131.6,123 L130.3,121.5 L130.2,119.5 L131.5,118 L131.1,116.1 M106.5,117.6 L107.6,119.3 L108.5,121.1 L107.7,123 L105.7,123.2 L104,124.3 L103.3,126.2 M116.9,116.8 L118.9,117.4 L120.8,118 L122.6,117.2 M121.8,125.9 L123.8,126 L125.7,126.6 L127.4,125.6 L129.1,124.4 L128.9,122.5 L127.1,121.6 L126.5,119.7 M127.5,124.2 L129.1,123.1 L130.9,124 L131,126 L131.3,128 L132.8,129.3 L132.7,131.3 L134.2,132.5 M132.3,127.1 L131.3,125.3 L130.8,123.4 L131.5,121.5 L132.9,120 L134.9,120.1 L136.4,121.3 L136.8,123.3 M125.3,133.2 L125.4,131.2 L123.8,129.9 L122.4,128.5 L122.2,126.5 L120.8,125.1 L120.3,123.2 M148.4,123.7 L146.4,123.3 L145.1,121.8 L143.1,122 L142.3,123.8 L140.7,124.9 L139.5,126.6 M118.4,119.5 L119,117.6 L119.1,115.6 L120.1,113.9 M114.7,127.1 L115.2,125.2 L116.1,123.4 L115.3,121.5 L114.7,119.6 L115.4,117.8 L114.5,116 M118.7,127.6 L119.6,129.4 L121,130.8 L122.4,132.2 L122.6,134.2 L122.5,136.2 L121.5,138 L120.2,139.5 L118.7,140.8 L116.8,141.4 L114.9,142.1 L113.6,143.6 L113.1,145.5 L112.9,147.5 L113.9,149.3 L115.2,150.8 L115.5,152.7 L115,154.6 L114.9,156.6 L114.3,158.6 M148.2,129.2 L147.4,131.1 L147.6,133.1 L148.6,134.8 L149.8,136.4 L151.1,137.9 L151.1,139.9 L150.1,141.7 L149.5,143.6 L148.8,145.5 L147.5,147 L145.9,148.1 L144.2,149.2 L142.7,150.6 L142.1,152.5 L142.2,154.5 L141.7,156.4 L141.1,158.3 L139.9,159.9"/>
<path fill="none" stroke="#e0a868" stroke-width="0.6" stroke-linecap="round" stroke-linejoin="round" d="M107.4,121 L108.5,119.3 L107.9,117.4 L107.2,115.5 L105.9,114 L104.5,112.6 M126.3,124.9 L127.5,126.5 L129.4,127.3 L131.3,126.9 L132.5,125.3 L134.5,125.1 M128.4,113 L127.6,114.8 L126.5,116.5 L124.9,117.7 L122.9,117.5 L121.1,116.6 L119.8,115.2 M135.7,109.7 L136.9,111.3 L136.7,113.3 L135.1,114.4 L133.1,114.3 L131.6,115.7 L129.6,115.8 M115.1,102 L113.5,100.8 L111.6,101.4 L111.2,103.4 L112.6,104.8 L112.4,106.8 M110.7,104.9 L111.5,103.1 L110.7,101.2 L111.6,99.4 M132.7,115 L134.7,114.8 L136.7,114.9 L138.5,114 L140.4,114.3 L142.4,114.3 L143.6,115.9 L143.6,117.9 M132.7,108.2 L131.8,110 L131.5,112 L130.3,113.6 L129.6,115.4 M137.5,116.6 L139.2,117.5 L140.3,119.2 L141.2,121 L141.5,123 L140,124.3 M148,113.5 L149.5,114.8 L149.1,116.8 L150,118.6 L151,120.3 L153,120.6 L155,120.3"/>
<path fill="none" stroke="#f4d8a4" stroke-width="1" stroke-linecap="round" stroke-linejoin="round" d="M140.1,105.8 L140,103.8 L141.7,102.7 L143,101.3 M141.5,117.3 L143,115.9 L145,115.5 L146.5,116.8 L146.9,118.7 L145.9,120.5 M120.2,133.2 L122.1,132.6 L124,133.1 L125.9,132.4 L127.2,130.9 L128.9,129.9 M145.5,115.7 L147.2,114.6 L148.9,113.6 L150.9,113.2 L152.9,113.4 M133.4,129.9 L133.2,127.9 L131.9,126.5 L129.9,126.7 L128.1,125.9 M139,123.6 L141,124.1 L142.9,123.4 L144.9,123.5 L146.9,123.4 L148.8,122.8 L150.3,124.1 L152.2,123.4 M135.7,101.2 L134.6,99.5 L134,97.6 L134,95.6 L134.8,93.8 L135.4,91.9 L134.2,90.2 M147.3,133.7 L145.9,135.2 L144.4,136.5 L143.2,138.1 L141.4,138.9 L140.3,140.6 L140.2,142.6 L140.4,144.6 L141.1,146.4 L141.1,148.4 L142.1,150.2 L143.3,151.8 L144.8,153.1 L145.9,154.8 L145.7,156.8 L146,158.8 L146.5,160.7 L147.1,162.6 L147.5,164.6 L148.7,166.2 L148.8,168.2 L148.6,170.2 L149.4,172 L150,173.9 L149.7,175.9 L149.9,177.9 L150.1,179.9 L149.5,181.8 L149.6,183.8 L149.9,185.7 L149.3,187.7 L148.6,189.5 M115.1,137.3 L115.1,139.3 L115.9,141.1 L117.3,142.5 L117.8,144.4 L119.1,146 L120.2,147.7 L121.1,149.4 L122.6,150.8 L123.9,152.3 L125.6,153.3 L127.1,154.7 L128.3,156.3 L129.6,157.8 L131.3,158.9 L132.8,160.2 L134.6,161.1 L136.6,161.5 L138.5,161.9 L139.9,163.4 L141,165 L141.2,167 L142.5,168.6 L142.6,170.6 L142.8,172.6 L142.4,174.5 L142,176.5 L141.3,178.4 L141.5,180.4 L141.1,182.3 L141.6,184.2 L142.6,186 L144.3,187.1 M119.6,130.4 L119.8,132.3 L120.6,134.2 L120.6,136.2 L121.7,137.9 L121.9,139.9 L122,141.9 L122.5,143.8 L121.9,145.7 L122,147.7 L122.7,149.6 L124.2,151 L125.3,152.6 L125.8,154.6"/>
<path fill="none" stroke="#e0a868" stroke-width="1" stroke-linecap="round" stroke-linejoin="round" d="M147,108.8 L149,108.8 L150.9,109.3 L152.9,109.6 L154.7,110.5 M135.4,116.2 L133.5,115.6 L132.7,113.8 L131.8,112.1 M131.4,101.8 L133,103 L133.3,105 L132.1,106.5 M131.7,124.6 L132.2,122.7 L134.1,122.1 L136.1,122.1 L137.2,123.8 L139.2,124.1 L141,124.8 L142.5,126.2 M124.4,128.7 L122.4,129 L121.6,130.8 L120.5,132.5 L121,134.4 M121.5,111.9 L119.5,112.1 L117.8,111 L115.8,110.8 L113.8,111.1 L112.9,112.9 L112.8,114.9 M111.9,107.9 L113.8,107.4 L115.3,108.7 L116.8,110.1 L118.3,111.4 L120.3,111.3 L122.1,110.4 M146.1,110.7 L147.6,109.4 L148.6,107.6 L150.1,106.3"/>
<path fill="none" stroke="#ecc48c" stroke-width="0.6" stroke-linecap="round" stroke-linejoin="round" d="M147,112.4 L145.7,113.9 L146.3,115.8 L145.6,117.7 L144.1,119 L144.2,121 L143.2,122.8 L143.7,124.7 M129.6,108.4 L130,106.4 L128.6,105.1 L126.7,105.6 L125.2,106.9 M111.1,121.9 L109.5,120.8 L108,119.4 L107.7,117.4 L105.8,116.7 L104.4,115.3 L104.1,113.3 L104.8,111.4 M140.9,115 L140.8,113 L142.5,111.9 L143.6,110.2 M132.5,112.4 L133.8,113.9 L134.7,115.7 L134.3,117.6 M124.2,112.8 L125.8,111.6 L126,109.6 L125.1,107.8 L125.2,105.8 M145.8,121.4 L144.1,120.4 L142.2,119.7 L140.5,120.8 L138.5,121.2 M115.1,111.7 L116.8,112.8 L117.1,114.8 L115.8,116.3 L114.4,117.8 L113.1,119.3 L111.5,120.5 M123.3,123.8 L125,124.8 L126.9,125.5 L127.8,127.3 L127.1,129.1 L125.1,129.7 L123.3,130.4 M116.3,116 L114.5,117 L112.9,118.2 L112.1,120 L112.5,122 M116.2,120.4 L114.5,119.4 L112.5,119 L111.5,117.3 L109.5,117.3 M124.4,137.5 L123.1,139 L121.5,140.2 L119.6,140.9 L118.2,142.3 L116.4,143.1 L115.6,144.9 L115,146.8 L115.3,148.8 L115.8,150.8 L115.7,152.8 L115.2,154.7 L115,156.7 L115.2,158.7 M126.5,132.9 L125.5,134.6 L124.6,136.4 L123.4,138 L121.8,139.3 L121.2,141.1 L120.4,143 L119,144.4 L117.2,145.3 L115.4,146.1 L113.9,147.4 L112.1,148.3 L110.4,149.4 L109.7,151.3 L109.1,153.2 L108.9,155.2 L108.4,157.1 L107.3,158.8 M139.3,126.3 L139.3,128.3 L138.8,130.2 L137.8,132 L136.7,133.6 L134.9,134.6 L133.2,135.7 L132.6,137.6 L131.9,139.5 L131,141.2 L131.1,143.2 L131.7,145.1 L131.3,147.1 L130,148.6 L129.7,150.6 L129.9,152.6 L130.4,154.5 L131.3,156.3 L131.9,158.2 L132.2,160.2 L132.8,162.1 M119,126.5 L119.1,128.5 L119.1,130.5 L119.7,132.4 L121.1,133.9 L123,134.6 L124.1,136.3 L125.7,137.5 L126.1,139.5 L126.9,141.3 L127,143.3 L127.9,145.1 L128.1,147.1 L128.9,148.9 L129.8,150.7 L130.6,152.5 L132,154 L133.6,155.2 L134.4,157 L135.6,158.6 L136.8,160.2 L137.3,162.1 L138.3,163.9 M129.5,137.4 L129,139.3 L129.2,141.3 L129.5,143.3 L130.2,145.2 L130.1,147.2 L130.5,149.1 L129.8,151 L128.7,152.7 L128.8,154.7 L129.6,156.5 L130.5,158.3 L130.7,160.3 L130.7,162.3 L130.2,164.2 M114.5,135.7 L114.3,137.7 L115.1,139.6 L116.3,141.2 L117.9,142.3 L118.5,144.2 L119.7,145.8 L121.4,146.9 L122.8,148.3 L123.9,150 L124.1,152 L125.2,153.6 L126.7,155 L128.4,156 L129.8,157.4 L131.2,158.9 L132.5,160.4"/>
<path fill="none" stroke="#9a6228" stroke-width="0.6" stroke-linecap="round" stroke-linejoin="round" d="M138.5,97.5 L139.8,99 L141.8,98.7 L143.7,98 L144.7,96.3 M133.8,96.2 L135.7,96.9 L137.3,98.1 L139.1,99 L141,99.2 M128.6,121.3 L127.7,123.1 L128.5,124.9 L128,126.8 L126.6,128.3 L124.6,128.5 L123.2,127 L121.2,127.3 M112.8,107 L111,107.8 L109.2,107 L107.5,108 L105.7,109 L104.2,110.2 L103.6,112.2 M123.1,100.9 L123.1,102.9 L123.4,104.8 L121.9,106.2 L122,108.1 L121.6,110.1 L120.6,111.8 M141.4,112.5 L141,114.5 L142.1,116.1 L144,116.8 M112,115 L110.4,116.1 L109.6,118 L110.6,119.7 L111.1,121.7 L112.8,122.8 L114.7,123.1 L116.6,123.7 M123.9,122.7 L121.9,122.2 L121.4,120.2 L122.1,118.4 L124,117.8 M136.7,110.7 L138.7,110.4 L140.7,110 L142.2,108.7 L144.1,109.5 L146.1,109.4 M145.9,114.2 L145.5,116.2 L144.9,118.1 L144.4,120 M120.2,104.7 L120.3,106.7 L120.9,108.6 L120,110.5 L120.3,112.4 M118.7,109.1 L119.9,110.7 L121.8,110.5 L123.6,109.7 L124.3,107.8 L125,105.9"/>
<path fill="none" stroke="#d89e60" stroke-width="1" stroke-linecap="round" stroke-linejoin="round" d="M133.1,108.1 L134.9,108.8 L136.4,110.1 L138.1,111.2 L140.1,111.1 L141.9,110.2 L142.4,108.2 M133.9,95.5 L135.9,95.1 L137.1,93.5 L139,93 L141,93.5 M119.7,109.6 L117.7,109.5 L116.7,111.3 L114.8,112 L112.8,111.8 L110.8,111.9 L109.7,113.6 M134,95.2 L133.8,97.2 L132.2,98.3 L131.4,100.1 L130.4,101.9 L130.9,103.8 M119.1,133 L118.6,131 L118.8,129 L118.1,127.1 L116.9,125.6 L117.4,123.7 L118,121.7 L119.9,121.3 M146.6,120.2 L144.7,119.6 L143.5,118 L142.3,116.5 L140.3,116 L139.6,114.1 L140.3,112.3 L141.2,110.5 M146.1,117.7 L146.8,115.8 L146.6,113.8 L147.1,111.9 L147.6,110 L147.8,108 L147.3,106 L146.5,104.2"/>
<path fill="none" stroke="#6e3e16" stroke-width="0.6" stroke-linecap="round" stroke-linejoin="round" d="M119.9,104.8 L118.1,105.8 L117.3,107.6 L115.3,107.9 L113.4,108.6 M109.9,107.8 L107.9,107.9 L106,108.3 L105.2,110.1 L104.6,112 L104.5,114 M114.2,104.3 L115.3,105.9 L114.9,107.8 L113.8,109.5 L111.9,110 L109.9,109.9 L107.9,109.4 L106.1,110.1 M137.8,102.9 L139.8,103.3 L141.6,104.3 L142,106.2 L140.8,107.8 L140.3,109.8 L141.8,111.1 M146.4,103.3 L146.4,101.3 L146.5,99.3 L147.6,97.6 M117.1,122.9 L119,123.4 L120.7,124.4 L122.6,125.2 L124.4,126.1 L126.2,127 M142.8,107.1 L140.9,107.5 L139.2,106.4 L137.5,105.3 L135.8,106.2 L133.9,105.4 M121.1,112.5 L122.9,111.4 L123.5,109.6 L124.9,108 L126.7,107.3 L127.8,105.6 M116.9,135.5 L117.2,137.5 L116.5,139.4 L115.7,141.2 L115.4,143.2 L115.9,145.1 L116.6,147 L116.3,149 L116.4,151 L116.2,153 L115.3,154.8 L115.7,156.7 L117.1,158.2 L117.8,160.1 L119,161.7 L120.3,163.2 L121.7,164.6 L123.1,166.1 L124.6,167.4 L125.2,169.3 L125.8,171.2 L125.2,173.1 L124.2,174.9 L123.5,176.7 L122.2,178.2 L120.7,179.5 L118.8,180.3 L117.9,182.1 L117.6,184.1 L118.4,185.9 L119.9,187.2 L120.6,189.1 L121.7,190.7 L122.9,192.3 M131.4,126.6 L131.3,128.6 L131.6,130.6 L132.4,132.4 L132.3,134.4 L132.7,136.4 L132.6,138.4 L131.8,140.2 L131,142.1 L130.4,144 L129.1,145.5 L128.1,147.2 L126.6,148.5 L126.2,150.5 L126.1,152.5 L125.6,154.4 L126.3,156.3 L126,158.3 L126.7,160.2 L127,162.2 L128,163.9 L127.8,165.9 L127.5,167.9 L126.7,169.7 M135.8,133.6 L136.2,135.5 L136.2,137.5 L136.2,139.5 L135.7,141.5 L136.3,143.4 L136,145.3 L134.9,147 L134.8,149 L135,151 L135.5,152.9 L135.8,154.9 L136.8,156.6 L137.4,158.6"/>
<path fill="none" stroke="#b4783a" stroke-width="1" stroke-linecap="round" stroke-linejoin="round" d="M149.4,113.3 L148.4,115 L147.8,116.9 L147.5,118.9 L147.8,120.9 L149.6,121.9 L151.6,122.3 M121.5,133.4 L123.2,134.5 L124.6,136 L126.5,135.5 L128,134.2 L129.5,132.8 M123.7,131.7 L125.6,132.4 L127.6,133 L128.7,134.6 L130.6,135.1 L132.6,135.6 M142.1,113.3 L144.1,113.5 L145.4,112 L145,110 L146.2,108.5 L147.9,107.3 M124.6,111.7 L126.3,112.7 L128.3,112.9 L129.8,114.3 M141.1,127.5 L141.1,125.5 L139.2,124.7 L137.9,123.2 L135.9,123.1 M137.5,112.6 L135.9,113.8 L135.5,115.8 L136.9,117.2 L138.8,116.7 L140.2,118.2 L140.5,120.2 L142.3,121.1 M149.7,128.2 L149.7,130.2 L150.3,132.2 L150.4,134.2 L150.6,136.2 L149.8,138 L149.3,139.9 L149.2,141.9 L149.8,143.8 L150.9,145.5 L151.9,147.2 L152,149.2 L151.2,151 L149.6,152.3 L148.5,153.9 M135.4,132.2 L136.1,134.1 L136.3,136.1 L135.8,138 L135,139.8 L135.2,141.8 L135.5,143.8 L136.1,145.7"/>
<path fill="none" stroke="#f4d8a4" stroke-width="0.6" stroke-linecap="round" stroke-linejoin="round" d="M148.2,119 L146.7,120.3 L144.7,120.2 L142.9,119.4 L142.5,117.5 M134.5,106 L132.7,106.7 L131.1,105.6 L130.1,103.8 L128.5,102.6 L126.7,103.4 L124.8,104.2 L122.8,104.2 M127.6,131.2 L129.4,130.3 L131.4,130.2 L133.2,131 L135.2,131.3 M112.2,122.8 L113.9,124 L115.7,123.2 L116,121.3 L116.7,119.4 M115.9,116.8 L117.5,115.6 L118.9,114.2 L118.8,112.2 L117.1,111.1 L115.2,111.8 M123.8,107.6 L121.8,107.6 L120.1,108.6 L118.4,107.5 L117.2,105.9 M140.7,106.8 L141.9,105.1 L142.5,103.2 L144.1,102 L144.3,100 L142.7,98.8 L140.7,99 M135.5,133.5 L134.5,131.8 L134.6,129.8 L135.6,128 M139.8,113 L138,113.9 L136.2,113.2 L135.2,111.4 L133.5,110.3 L131.8,111.3 L130.8,113 M138.4,107.4 L137.6,109.2 L137.5,111.2 L138.7,112.8 L139.8,114.5 L138.8,116.3 M115.5,119.5 L116.5,121.2 L116,123.1 L114.3,124.2 L112.5,123.4 L110.5,123.8 M121.3,111.9 L119.3,112.2 L117.3,111.8 L116.6,109.9 L115.6,108.2 L116.3,106.4 L117.2,104.6 M115,122.8 L115.7,124.6 L117.6,125.2 L118.6,126.9 M144.7,111 L144.8,109 L145.8,107.3 L146,105.3 L146.7,103.4 M116.8,128 L118.8,128 L120.4,129.2 L122.1,130.4 L124,129.8 L125.3,128.3 L125.2,126.3 L126.7,125 M144,130.2 L144.8,132 L144.4,134 L144,135.9 L143.5,137.9 L143,139.8 L141.9,141.5 L141.5,143.4 L141.8,145.4 L141.3,147.3 L140.9,149.3 L140.2,151.2 L138.9,152.7 L137.2,153.7 L135.3,154.3 L134.3,156.1 L133.6,157.9 M112.6,129.1 L112.7,131.1 L113.7,132.8 L113.7,134.8 L113.5,136.8 L113.4,138.8 L113.6,140.8 L114.6,142.6 L114.6,144.6 L115.7,146.2 L117,147.7 L118.2,149.4 L118.8,151.3 L118.7,153.2 M112.5,127.8 L113.8,129.4 L115.2,130.8 L116.7,132.1 L117.3,134 L116.8,135.9 L115.7,137.6 L114.9,139.5 L114.9,141.5 L115.2,143.4 L115.8,145.3 L116.1,147.3 L115.4,149.2 L115.7,151.2 L116.4,153 L116.4,155 L116.4,157 L116,159 L115.2,160.8 L115.4,162.8"/>
<path fill="none" stroke="#c08244" stroke-width="1" stroke-linecap="round" stroke-linejoin="round" d="M135.4,132.8 L134.7,130.9 L133.4,129.3 L131.4,129.5 L130.2,131.1 M148.9,116.3 L147.8,118 L145.8,118.1 L144.2,119.3 L142.3,119.9 L140.6,120.8 M148,114.8 L147,116.5 L146.7,118.5 L146.5,120.5 L145.8,122.3 M140.9,119.8 L139.8,121.5 L137.8,121.8 L135.8,121.9 L134.5,120.3 L132.7,119.6 M111.5,109.5 L110.3,111 L108.3,111.4 L106.6,112.4 M119,101.6 L117.5,102.9 L115.6,103.5 L113.7,102.9 L111.8,103.4 L110.6,105.1 L108.6,105.3 M109.9,110.1 L110.1,108.1 L111.5,106.8 L113.4,106.1 L115.3,106.7 L117.1,105.8 L118.9,104.8 L120.6,103.9"/>
<path fill="none" stroke="#3e2008" stroke-width="1" stroke-linecap="round" stroke-linejoin="round" d="M114.1,106.9 L113.7,104.9 L112.5,103.3 L113.3,101.5 L112.7,99.6 L113,97.6 L114,95.8 L113,94.1 M143.4,112 L141.7,113.1 L140.2,114.3 L140.5,116.3 L139.7,118.1 L139.3,120.1 M114.2,122.1 L112.3,122.6 L110.3,123 L108.3,123.1 L106.5,123.9 L104.5,123.8 M126,106 L124.1,105.6 L123.5,103.7 L124.8,102.1 L125.3,100.2 L124.6,98.3 M137.9,105.2 L136.8,106.9 L135.3,108.3 L134.4,110.1 M140,116.2 L141.9,116.7 L143.2,118.2 L144.4,119.9 L143.4,121.6 L142.4,123.4 M122.8,102.8 L121.1,103.7 L119.4,104.9 L119.7,106.9 L121.4,107.8 L123.4,107.6 L125.3,107.1 L127.2,106.5 M138.1,101.4 L136.3,100.7 L135.1,99.1 L134.1,97.3 L134.8,95.4"/>
<path fill="none" stroke="#6e3e16" stroke-width="0.8" stroke-linecap="round" stroke-linejoin="round" d="M117.3,112.5 L116,114 L114.1,114.5 L112.2,115.1 L110.2,115.5 L108.2,115.2 L106.8,116.6 M108.8,118.3 L110.3,117 L112.2,117.7 L112.7,119.6 L114.7,120.1 L116.7,120.4 L118,122 L117.3,123.9 M113.9,104.6 L112.8,106.3 L112.7,108.3 L111.1,109.5 M147.5,118 L149.3,118.7 L151.2,119.4 L152.9,118.3 L154.8,119 L155.3,120.9 L155.7,122.9 M122.8,131.1 L121,132 L119.9,133.7 L119,135.5 M116.3,100.9 L116.4,98.9 L117.2,97.1 L119,96.2 L120.9,96.6 M132,122.6 L131.7,120.7 L130.8,118.9 L131.2,116.9 L132.8,115.7 L133.6,113.9 M128.4,118.5 L129.5,120.2 L131.5,120.1 L132.4,118.3 L132.9,116.4 M139.1,117.9 L137.7,119.3 L135.7,119.3 L133.8,120.1 L132.1,119.2 M121.9,132.9 L123.8,133.5 L125.4,134.6 L127.4,134.2 L129.2,133.4 L130.9,134.5 L132.1,136.1 L134,136.5 M140,129.5 L138.9,131.1 L137.4,132.5 L135.8,133.7 L134.7,135.4 L133,136.4 L131.2,137.3 L129.4,138.2 L128.2,139.8 L127.8,141.8 L127.3,143.7 L126.2,145.4 L124.8,146.7 L123.8,148.5 L123.7,150.5 L123.6,152.5 L122.6,154.2 L122.5,156.2 L121.9,158.1 L122,160.1 L122.5,162 L123.8,163.6 L125.1,165.1 L126.4,166.6 L126.4,168.6 L125.4,170.3 L125.2,172.3 L125.4,174.3 L124.6,176.1 L124.5,178.1 L124.8,180.1 M109.8,136.3 L111.1,137.7 L112.2,139.4 L112.3,141.4 L113.3,143.1 L114.8,144.5 L116.6,145.2 L118.4,146.1 L120.4,146.6 L122.3,146.8 L124,148 L125.3,149.5 L125.5,151.5 L126,153.5 L126.1,155.5 L127.3,157.1 L127.5,159 L128.2,160.9"/>
<path fill="none" stroke="#b4783a" stroke-width="0.8" stroke-linecap="round" stroke-linejoin="round" d="M129.9,114.7 L127.9,115.2 L126,114.7 L124,114.6 L122,115.1 L121,116.8 L120.7,118.8 M130.5,119.3 L128.5,119 L127.7,117.2 L127.4,115.2 L126.2,113.6 L125.8,111.7 M140.3,130.8 L141.5,132.4 L142.7,134.1 L142.1,136 L142.7,137.8 L144.2,139.1 L145.7,140.5 M119.5,105.2 L120.9,103.8 L122.8,103.2 L124.5,104.2 L126.5,104.2 L128.5,104.3 L129.8,105.8 L130.2,107.8 M144.8,124.8 L146,126.4 L147.9,127.2 L149.9,127.3 L150.9,129 L152.9,129.1 M130.7,98.7 L128.7,98.5 L127.5,100.1 L126.6,101.9 L125.9,103.8 L124.4,105 M106.7,116.4 L106.1,114.5 L105.6,112.6 L106.7,110.9 L105.7,109.1 M121.4,118.2 L123.4,118.7 L124.7,120.2 L125.8,121.8 L125.2,123.7 L125.5,125.7 M125.5,131.9 L126.8,130.3 L128.4,129.1 L130.2,128.2 L132.1,127.9 L133.5,126.4 M115.5,129.3 L114,128 L112,127.9 L110,128.5 L108.2,127.7 M137,126.5 L136.3,128.3 L135.2,130 L135.3,132 L134.5,133.8 L134.7,135.8 L135.7,137.6 L135.5,139.5 L134.3,141.2 L133.3,142.9 L133.5,144.9 L134.2,146.7 L134.6,148.7 L134.7,150.7 L134.6,152.7 L133.4,154.3 M148.7,135.4 L148.3,137.4 L147.8,139.3 L147.1,141.2 L145.8,142.7 L144.5,144.2 L142.7,145.1 L140.7,145.5 L139.5,147.1 L138.2,148.6 L137.2,150.3 L136,152 M141.2,133.3 L141.3,135.3 L142.4,137 L143.8,138.4 L144,140.4 L144.2,142.3 L143.7,144.3 L143.7,146.3 L144,148.2 L145,150 L145.7,151.8 L145.4,153.8 L145.1,155.8 L145,157.8 L144,159.5 L142.4,160.8 L140.8,162 L140.3,163.9 L139.5,165.7 L138.9,167.6 L137.5,169.1 M141.4,132.4 L141.5,134.4 L142.6,136.1 L144,137.5 L145.3,139 L146.8,140.4 L148.6,141.2 L149.9,142.7 L151.3,144.1 L151.6,146.1 L150.9,147.9 L150.2,149.8 L149,151.4 L147.8,153 L146.4,154.5 L145.8,156.4 L144.8,158.1 L143.2,159.3 L141.5,160.4 L140.2,161.9 L139.8,163.9 L138.5,165.4 L137.2,166.9 L135.9,168.4 L135.5,170.4 L134.1,171.9 L133.4,173.8 L133.1,175.7"/>
<path fill="none" stroke="#9a6228" stroke-width="0.8" stroke-linecap="round" stroke-linejoin="round" d="M119.7,130.3 L118.2,131.6 L116.4,132.4 L114.8,133.6 L113.6,135.2 L112.5,136.9 L110.6,137.6 M121.9,128.8 L122.6,130.6 L122.2,132.6 L120.7,133.9 L118.9,134.6 L117.3,135.8 L115.9,137.3 M133,97.9 L132.9,95.9 L132.3,94 L131.2,92.2 L131.9,90.3 L130.8,88.7 M143.7,105.9 L143.7,103.9 L142.1,102.7 L140.2,103.4 L138.2,103.6 L136.2,103.2 L134.5,104.2 L132.5,104.5 M146.5,118 L147.3,119.9 L147.9,121.8 L146.7,123.4 L145.1,124.6 L144.5,126.5 L143.7,128.4 L143.2,130.3 M127.8,118.2 L125.9,118.5 L124.5,120 L122.8,121 L122.9,123 L124.1,124.6 L125.7,125.8 L126.3,127.8 M147.6,117.2 L145.9,118.3 L143.9,118.8 L142.8,120.5 L143.3,122.4 L142.1,124 L140.3,124.8 M133.7,130.5 L134.3,132.4 L134.5,134.4 L135.6,136.1 L136.1,138 L136.6,139.9 L136.9,141.9 L136.7,143.9 L136.7,145.9 L136.2,147.9 L136,149.8 M129.8,129.5 L130.7,131.3 L130.8,133.3 L130.9,135.3 L130.3,137.2 L129.1,138.8 L129.1,140.8 L129.4,142.8 L130.5,144.4 L131.9,145.8 L132.6,147.7 L133.7,149.4 L135.1,150.9 L136.8,151.9 L137.8,153.6 L138.5,155.5 L139.7,157.1 L140.9,158.6 L141.1,160.6 L140.6,162.5 L141.2,164.4 L141.1,166.4 L141.8,168.3 L142.3,170.3 L143.4,171.9 L143.6,173.9 L143.3,175.9 L143.6,177.8 L142.9,179.7 L142,181.5 L140.9,183.1 L140.9,185.1"/>
<path fill="none" stroke="#6e3e16" stroke-width="1" stroke-linecap="round" stroke-linejoin="round" d="M139.2,98.7 L139,100.7 L139,102.7 L140.6,103.9 M145,118.1 L146,119.8 L147.9,120.2 L149.8,120.8 L151.6,121.7 M136.7,106.9 L138.7,107.2 L140.4,108.3 L141.8,109.7 L141.9,111.7 L142.5,113.6 M141.2,107.7 L142.5,106.1 L142.9,104.2 L141.6,102.6 L142.2,100.7 L142.4,98.7 L144.1,97.7 L146.1,97.6 M144.1,132.7 L143.9,134.7 L144.3,136.6 L144.8,138.6 L145.2,140.5 L145.5,142.5 L146,144.4 L147.1,146.1 L148.5,147.5 L149.3,149.4 L148.9,151.3 L148.2,153.2 L147.1,154.9 L147,156.9 L145.9,158.5 L145.2,160.4 M136.3,134.1 L136.9,136 L136.7,138 L136,139.9 L135.4,141.8 L135,143.8 L135.2,145.7 L136.3,147.4 L137.9,148.6 L139.6,149.6 L140.5,151.5 L140.7,153.4"/>
<path fill="none" stroke="#5a3010" stroke-width="0.6" stroke-linecap="round" stroke-linejoin="round" d="M112,117.1 L114,116.9 L115.8,117.7 L117.5,118.7 M131,97.3 L130.2,99.2 L128.3,99.8 L126.4,99.5 M115.7,118.7 L117.5,117.9 L118.2,116 L118.8,114.1 L119.4,112.2 M138.8,122.4 L139.4,124.3 L138.1,125.8 L136.8,127.3 M120.3,124.2 L118.3,124.4 L116.5,125.3 L114.5,125 L113.3,123.5 L112.1,121.9 L110.7,120.4 L108.7,120.2 M139,130 L140.2,131.6 L142.2,131.5 L144.1,130.9 L145.8,129.8 L146.5,128 M148.2,126.9 L147.8,128.9 L148.3,130.8 L148.1,132.8 L149,134.6 L150.1,136.3 L149.8,138.3 L150.2,140.2 L151.4,141.9 L151.7,143.9 L150.8,145.7 M112.7,129.7 L112.5,131.7 L111.9,133.6 L111.6,135.6 L110.6,137.3 L109.4,138.9 L108.8,140.8 L108.7,142.8 L108,144.6 L107.8,146.6 L108.4,148.5 L108.2,150.5 L108.1,152.5 L108,154.5 L107.6,156.5 L106.6,158.2 L106.6,160.2 L107.1,162.1 L108.4,163.6 L109.7,165.1 L110.9,166.8 L111.1,168.8 L111.1,170.8 L110.9,172.8 L111.1,174.7 L111.2,176.7 L111.8,178.6 L111.7,180.6 L111,182.5 L109.8,184.1 L109.7,186.1 L109.3,188.1 L108.6,190 L108,191.9"/>
<path fill="none" stroke="#6e3e16" stroke-width="0.7" stroke-linecap="round" stroke-linejoin="round" d="M151,110.3 L152.8,110.8 L154.5,110.8 L156.3,110.8 L157.8,109.8 M106.1,119.2 L104.9,120.5 L104.1,122.1 L103.8,123.9"/>
<path fill="none" stroke="#d89e60" stroke-width="0.7" stroke-linecap="round" stroke-linejoin="round" d="M140.3,131.7 L140.5,133.5 L141.2,135.1 L141.8,136.8 L142.9,138.3 M119.5,132.9 L118.2,134.1 L117.6,135.9 L116.2,137 M149,105.4 L150.7,104.9 L152.3,104.1 L154.1,104.2 M106,110.3 L104.2,110.5 L102.7,109.4 L100.9,109.8 L99.2,110.1 M118.1,132.3 L117.3,134 L117.2,135.8 L117.1,137.6 L115.7,138.7 M151.4,116.2 L152.8,117.4 L154.6,117.3 L155.7,115.8"/>
<path fill="none" stroke="#b4783a" stroke-width="0.7" stroke-linecap="round" stroke-linejoin="round" d="M123.3,134 L122.7,135.7 L121.5,137 M115.8,131.2 L114.5,132.4 L113.1,133.6 L111.5,134.4 M123.5,134 L124.4,135.6 L124.5,137.4 L124.5,139.2 L123.2,140.5 M151,110.3 L152.7,109.6 L154,108.4 M149.7,106.7 L151.4,107.2 L153,106.4 L154.7,105.8 L156.5,106 M148.8,123.8 L150.1,125.2 L150.5,126.9"/>
<path fill="none" stroke="#ecc48c" stroke-width="0.7" stroke-linecap="round" stroke-linejoin="round" d="M124.4,134.2 L124.9,135.9 L125.8,137.4 L126.8,138.9 M130.9,134.4 L129.3,135.1 L128.3,136.6 M147.8,125.4 L149,126.7 L150,128.2"/>
<path fill="none" stroke="#5a3010" stroke-width="0.7" stroke-linecap="round" stroke-linejoin="round" d="M149.5,106.3 L150,104.6 L149.4,102.9 L149.3,101.1 L148.6,99.5 M124.6,134.2 L125.5,135.8 L125.8,137.5 L125.2,139.2 L123.9,140.5"/>
<path fill="none" stroke="#9a6228" stroke-width="0.7" stroke-linecap="round" stroke-linejoin="round" d="M150.8,109.5 L152.5,110.1 L154.1,110.9 L154.7,112.6 M144,129.3 L145.8,129.4 L147.5,129.9 M119,132.7 L118.1,134.3 L116.4,135 M120.1,133.1 L118.6,134 L117.1,135.1 L115.4,134.9"/>
<path fill="none" stroke="#e0a868" stroke-width="0.7" stroke-linecap="round" stroke-linejoin="round" d="M105.6,116 L104.6,114.4 L104.5,112.6 M118.4,132.4 L119.4,133.9 L121.2,134.3 L122.7,133.4 L123.2,131.7 M142.9,130.1 L144.1,131.4 L145.1,132.9 L145.9,134.5 M151.5,114 L153.3,114.2 L154.9,113.5"/>
<path fill="none" stroke="#3e2008" stroke-width="0.7" stroke-linecap="round" stroke-linejoin="round" d="M114.1,130.1 L113.6,131.8 L112,132.8 L111,134.2"/>
<path fill="none" stroke="#c08244" stroke-width="0.7" stroke-linecap="round" stroke-linejoin="round" d="M118.3,132.4 L116.9,133.5 L116.3,135.2 L114.8,136.3 L113,136.4 M151.4,116.7 L152.3,115.2 L153.9,114.3"/>
<path fill="none" stroke="#dcc088" stroke-width="1.5" stroke-linecap="round" d="M122.5,146 L128,175 L135,216"/>
<path fill="none" stroke="#c9a66a" stroke-width="1" stroke-linecap="round" d="M118,180 L112,198 L106,214 M106,132 L105.5,170 L106.5,200"/>
<path fill="none" stroke="#b98a4c" stroke-width="1" stroke-linecap="round" d="M153,100 L162,101 L159,108 L155,107 M155,110 L157,120 L156,131 M150,128 L157,138"/>
</g>
</g>
<!-- PHOTO2 -->
<g id="photo2" clip-path="url(#cp2)">
<rect x="24" y="418.2" width="174.5" height="204.35" fill="#000"/>
<g filter="url(#soft)">
<path fill="url(#st2h)" d="M79,418 L94.8,418 L94.6,470 L96.5,505 L98,520 L99,560 L101.2,623 L84,623 L81,560 L80,518 L79.2,480 Z"/>
<path fill="url(#st2v)" d="M79,418 L94.8,418 L94.6,470 L96.5,505 L98,520 L99,560 L101.2,623 L84,623 L81,560 L80,518 L79.2,480 Z"/>
<path fill="none" stroke="#d3d9a6" stroke-width="1" opacity=".4" stroke-dasharray="3 2.5 1 3 2 4" d="M89,545 L90.5,620"/>
<path fill="#3a2a22" opacity=".85" d="M94.5,478 L104,470 L112,476 L118,494 L112,510 L104,519 L96,516 Z"/>
<path fill="#5f564c" d="M113,499 L122,484 L136,466 L148,454.5 L153.5,459.5 L141,475 L126,496 L119,504 Z"/>
<path fill="#8c8276" opacity=".75" d="M124,485 L138,467 L146,459 L149,462 L134,479 L128,488 Z"/>
<path fill="#3e352c" opacity=".8" d="M119,494 L130,480 L133,483 L123,498 Z"/>
<path fill="url(#sh2)" d="M148,454.5 L162,438 L175.4,422.8 L181.6,423 L172,438 L164,448.5 L153.5,459.5 Z"/>
<path fill="none" stroke="#c9b084" stroke-width="1.8" stroke-linecap="round" d="M165,448.5 L154,461 L141,476"/>
<path fill="none" stroke="#9cb062" stroke-width="3.6" stroke-linecap="round" d="M103.5,508.5 L128,494 L150,481.5 L165,473"/>
<path fill="none" stroke="#c4cc90" stroke-width="1" opacity=".6" d="M104,507 L128,492.8 L150,480.3 L164,472"/>
<path fill="none" stroke="#8f9e54" stroke-width="4.6" stroke-linecap="butt" d="M167,471.5 L178,464.5 L188.3,458.6"/>
<path fill="none" stroke="#aebb76" stroke-width="2" stroke-linecap="round" d="M169,475.5 L179,474.5 L189.5,473.6"/>
<path fill="#b9c288" d="M163.5,471.5 L168.5,468 L172,475.5 L166.5,478.5 Z"/>
<path fill="none" stroke="#a3b468" stroke-width="2.2" stroke-linecap="round" d="M108,518 Q130,515 150,521 Q160,524.5 168,526"/>
<path fill="none" stroke="#9fb060" stroke-width="1.6" stroke-linecap="round" d="M168,526 L178,524 L188,523.5"/>
<path fill="none" stroke="#cdbf8c" stroke-width="2" stroke-linecap="round" d="M166,526.5 L178,531 L188,537"/>
<path fill="none" stroke="#6a4a2a" stroke-width="1.8" d="M80,516.5 L98,517.5"/>
<ellipse cx="103" cy="521" rx="2.6" ry="3" fill="#d9c4a0"/>
<path fill="none" stroke="#4a382e" stroke-width="0.8" stroke-linecap="round" stroke-linejoin="round" d="M97.8,500.3 L98,498.2 L98.3,496.1 L98.4,494 L98.4,491.9 L98.1,489.8 L97.9,487.7 L97.6,485.7 L97.5,483.6 L97.2,481.5 L97.4,479.4 L97.7,477.3 L98.1,475.2 L98.6,473.2 L98.9,471.1 L98.6,469.1 L98.5,467 L98.1,464.9 L97.8,462.8"/>
<path fill="none" stroke="#64503f" stroke-width="0.8" stroke-linecap="round" stroke-linejoin="round" d="M104,496.1 L104.6,494 L104.6,491.9 L104,489.9 L103.1,488 L101.9,486.3 L100.6,484.6 L99.6,482.8 L98.3,481.1 L97.1,479.4 L96,477.6 L95.4,475.6 L95.4,473.5 L95.1,471.4 L95.5,469.4 L95.4,467.3 L95,465.2 L94.2,463.3 L94.2,461.5 L93.9,459.4 L94.2,457.5 L93.7,455.4 L93.7,453.3 M106.9,496.6 L106.2,494.6 L106.4,492.5 L106.2,490.4 L105.8,488.3 L105.5,486.2 L105.6,484.1 L105.3,482.1 L105.4,480 L105.6,477.9 L105.3,475.8 L104.9,473.8 L105.2,471.7 L105.7,469.6 L105.7,467.5 L105.9,465.5 L105.6,463.4 L105.2,461.3 L104.8,459.3 L105.1,457.2 L105.4,455.1 L106.2,453.2 L106.8,451.2 L107.6,449.2 L107.7,447.1 L108.2,445.1 L108.7,443.1 L109,441 M105.3,508.6 L105.4,506.5 L105.9,504.5 L106,502.4 L106.3,500.3 L106.2,498.2 L106.5,496.1 L106.9,494.1 L106.9,492 L107.5,490 L107.5,487.9 L108.1,485.8 L108.9,483.9 L109.2,481.8 L109.7,479.8 L110.3,477.8 L111.3,475.9 L112.2,474 L112.8,472 L113.9,470.2 L114.2,468.1 L114.9,466.1 L115,464 L114.8,461.9 L114.3,459.9 L114.4,457.8 L114.4,455.7 L114.8,453.7 L114.9,451.6 L115.3,449.5 L115.8,447.5 L115.8,445.4 L115.8,443.3"/>
<path fill="none" stroke="#a38c80" stroke-width="1.5" stroke-linecap="round" stroke-linejoin="round" d="M107.1,499.5 L106.9,497.4 L106.7,495.3 L106.7,493.2 L107,491.1 L106.7,489 L106.8,486.9 L106.6,484.8 L106.3,482.8 L106.2,480.7 L106.5,478.6 L106.9,476.5 L107.8,474.6 L108.2,472.5 L108.2,470.4 L108.6,468.4 L108.6,466.3 L108.2,464.2 L107.7,462.2 L107.7,460.1 L108.1,458 L108.8,456 L109.9,454.2 L111.1,452.5 L111.9,450.6 L112.3,448.5 L113,446.5 L113,444.4 L113.2,442.3"/>
<path fill="none" stroke="#64503f" stroke-width="1.5" stroke-linecap="round" stroke-linejoin="round" d="M95.7,508.3 L94.8,506.4 L94.7,504.3 L95.1,502.2 L94.9,500.1 L94.7,498.1 L94.6,496 L94.3,493.9 L93.4,492 L93.7,489.9 L94.5,487.8 L93.2,485.7 L94.3,483.7 L93.5,481.7 L93.3,479.8 L94.1,477.7 L93.5,475.8 L93.3,473.9 L93.6,471.8 L94.2,469.9 L94.3,468 L93.9,466.4 L93,464.8 L94.1,463 L93.9,461 L94.3,459.1 L94.4,457.2 L93.5,455.2 L94.3,453.1 L94.2,451.1 L93.4,449.3 L93.5,447.5 L93.6,445.4 L93.5,443.4 L93.6,441.5 L93.2,439.4 L93.3,437.3 L94.4,435.3 L93.6,433.2 L94,431.3 L94.3,429.3 L94.1,427.2 L93.4,425.1 L94.4,423"/>
<path fill="none" stroke="#83695c" stroke-width="1.5" stroke-linecap="round" stroke-linejoin="round" d="M97.2,498.4 L97.1,496.3 L97.5,494.2 L97.3,492.1 L97.1,490.1 L96.8,488 L97,485.9 L96.9,483.8 L97.3,481.7 L98,479.7 L98.9,477.9 L99.2,475.8 L99.9,473.8 L100.8,471.9 L101.6,470 L102.4,468 L102.4,465.9 L102.9,463.9 L103.3,461.8 L103.6,459.7 L103.5,457.6 L103.9,455.5 L104.4,453.5 L105.3,451.6 L105.6,449.5 L105.6,447.4 L105.3,445.4 L104.6,443.4 L103.8,441.4 L102.7,439.7 L102.1,437.6"/>
<path fill="none" stroke="#705a50" stroke-width="0.8" stroke-linecap="round" stroke-linejoin="round" d="M105.1,508.8 L105.2,506.7 L105,504.7 L105,502.6 L104.6,500.5 L104.6,498.4 L105.1,496.3 L105.2,494.3 L105.4,492.2 L106,490.1 L106.7,488.2 L107.6,486.3 L108.6,484.4 L109.2,482.4 L110.1,480.5 L111.3,478.8 L111.7,476.7 L112.7,474.9 L113.4,472.9 L113.5,470.8 M106.6,500.6 L106.2,498.5 L105.5,496.6 L104.5,494.7 L104.1,492.7 L103.4,490.7 L102.5,488.8 L101.4,487 L100.3,485.2 L99.7,483.2 L99.6,481.1 L100,479 L100.9,477.1 L101.6,475.2 L102.7,473.4 L103,471.3 L103.8,469.3 L104.3,467.3 L104.3,465.2 L104.7,463.1 L105.4,461.1 L105.8,459.1 L105.6,457 L106,454.9 L106.6,452.9 L107.1,450.9 L108.1,449 L108.4,447 L108,444.9 L107.3,442.9 L106.2,441.1 L105.6,439.1 L105.3,437 L104.7,435 L103.8,433.1 L102.8,431.3 L102.1,429.3 L101.9,427.2 L102.3,425.1 L102.5,423 L103.2,421.1 L103.7,419 L103.9,416.9 L103.8,414.8 L103.4,412.8"/>
<path fill="none" stroke="#64503f" stroke-width="1.1" stroke-linecap="round" stroke-linejoin="round" d="M100.4,509.4 L101.2,507.5 L101.8,505.5 L101.9,503.4 L102.1,501.3 L101.9,499.2 L101.4,497.1 L100.6,495.2 L100.2,493.2 L100.6,491.1 L100.8,489 L100.8,486.9 L100.8,484.8 L100.7,482.7 L100.8,480.6 L100.9,478.5 L100.5,476.4 L100.8,474.4 L101.1,472.3 L100.8,470.2 L101.1,468.1 L101.6,466.1 L101.8,464 L102.3,462 L103.1,460 L103.7,458 L104.1,456 L104.2,453.9 L104.4,451.8 L104.9,449.7 L105.5,447.7 L106.6,445.9 L107,443.9"/>
<path fill="none" stroke="#937a6c" stroke-width="1.5" stroke-linecap="round" stroke-linejoin="round" d="M101,503.5 L101.5,501.5 L102,499.4 L103,497.6 L104,495.7 L105.1,493.9 L106.1,492.1 L107.3,490.3 L108,488.4 L108.1,486.3 L108.8,484.3 L109,482.2 L109.6,480.2 L109.8,478.1 L109.7,476 L109.1,474 L108.3,472 L108.3,469.9 L108.1,467.8 L108.7,465.8 L108.6,463.7 L108.4,461.6 L108.5,459.5 L109.2,457.5 L109.4,455.4 L109.4,453.3 L109.5,451.2 L109.4,449.1 L108.8,447.1 L108.2,445.1 L108,443 L107.9,440.9 L107.9,438.8 L107.6,436.7 L107.1,434.7 L106.8,432.6 L106.1,430.6 L105.4,428.6"/>
<path fill="none" stroke="#7a645a" stroke-width="1.5" stroke-linecap="round" stroke-linejoin="round" d="M107.6,497 L107.2,495 L107,492.9 L107.1,490.8 L106.8,488.7 L106.1,486.7 L105.2,484.8 L104.1,483.1 L102.8,481.4 L101.9,479.5 L101.3,477.5 L100.6,475.5 L100.6,473.4 L100,471.4 L99.2,469.5 L99.1,467.4 L99.2,465.3 L99.2,463.2 L99,461.1 L99.1,459 L99.1,456.9 L98.7,454.8 L98.4,452.7 L98.7,450.7 L99.5,448.7 L99.6,446.6 L99.3,444.5 L98.5,442.5 L98,440.5 L97.9,438.4 L98.3,436.4 L98.8,434.3"/>
<path fill="none" stroke="#4a382e" stroke-width="1.5" stroke-linecap="round" stroke-linejoin="round" d="M104.8,507.6 L104.8,505.5 L104.5,503.5 L104.7,501.4 L104.5,499.3 L103.8,497.3 L103.2,495.3 L102.7,493.3 L102,491.3 L101.8,489.2 L101.3,487.1 L101.1,485 L101.4,483 L101.5,480.9 L101.6,478.8 L102.1,476.7 L102.7,474.7 L102.6,472.6 L102.1,470.6"/>
<path fill="none" stroke="#937a6c" stroke-width="0.8" stroke-linecap="round" stroke-linejoin="round" d="M105.3,500.6 L105.1,498.5 L105.3,496.4 L105.3,494.3 L104.9,492.2 L104.8,490.1 L104.5,488 L104.5,485.9 L103.9,483.9 L103.9,481.8 L103.3,479.8 L102.4,477.9 L101.6,476 L100.6,474.1 L99.3,472.4 L98.5,470.5"/>
<path fill="none" stroke="#937a6c" stroke-width="1.1" stroke-linecap="round" stroke-linejoin="round" d="M103.7,503.9 L103.8,501.8 L104.4,499.8 L104.4,497.7 L104,495.7 L103.6,493.6 L103.6,491.5 L103,489.5 L102.3,487.5 L102.4,485.4 L102.8,483.3 L103.5,481.4 L104.5,479.5 L104.7,477.4 L105.3,475.4 L105.5,473.3 L105.4,471.2 L105.9,469.2 L106.1,467.1 L105.8,465 L106.1,462.9 L106.3,460.8 L106.9,458.8 L106.9,456.7"/>
<path fill="none" stroke="#937a6c" stroke-width="0.7" stroke-linecap="round" stroke-linejoin="round" d="M102.3,463.1 L101.9,464.4 L101.5,465.6 M98.7,491.2 L99.9,490.9 L101,490.1 M101,473.3 L102.3,473.3 L103.5,472.9 M103.3,470.4 L104.3,471.2 L104.9,472.3 M109.7,437.7 L108.5,438.1 L107.3,437.6 M108.2,450 L108.2,451.3 L108,452.6 M105.5,483.3 L106.7,483.7 L108,483.5 M103.9,442.6 L104.4,443.8 L105,445 M100.1,468 L98.8,468.2 L97.7,467.6 M102.4,436.5 L103.5,435.8 L104.6,435.1 M96.4,438.8 L95.1,439 L93.8,439.2 M101,464.8 L100.5,463.6 L101,462.4 M95.8,484.7 L94.6,485.1 L94.2,486.4 M104.1,492.3 L103.3,493.3 L103,494.6"/>
<path fill="none" stroke="#4a382e" stroke-width="0.7" stroke-linecap="round" stroke-linejoin="round" d="M103.9,477.4 L105.2,477.2 L106.4,476.9 M107.9,459.6 L107,460.6 L105.7,460.5 M99,494.6 L97.7,494.1 L97.2,492.9 M102.7,429.5 L103.8,430.1 L104.4,431.2 M105.2,486.4 L105.4,485.1 L105.1,483.9 M105.9,449.9 L106,451.2 L106.1,452.5 M107.2,476.9 L108,477.9 L109.3,477.8 M97.6,431.4 L98.9,430.9 L100.1,430.8 M100.4,437 L99.5,436 L99.6,434.7 M106.9,494.7 L105.9,495.4 L105.6,496.7 M109.1,444.8 L109.9,443.8 L109.9,442.5 M94.6,430.6 L93.3,430.2 L92.2,429.7 M103.6,503.7 L103.9,502.4 L104.4,501.2"/>
<path fill="none" stroke="#a38c80" stroke-width="0.7" stroke-linecap="round" stroke-linejoin="round" d="M94.7,447.7 L95.4,448.8 L96.2,449.9 M105.7,493.8 L105.2,492.6 L104,492.1 M107.6,496.1 L107,497.3 L105.9,497.9 M97.7,471.5 L96.4,471.3 L95.6,472.3 M99.9,459 L98.7,459.5 L97.4,459.5 M98.5,430.8 L99.7,430.2 L100,428.9 M96.2,478.6 L97.5,478.6 L98.3,477.6 M97.6,424.3 L98.6,423.5 L99.7,422.9 M100.5,442.9 L100.7,441.6 L101.7,440.7 M107.8,440.4 L108.5,439.4 L108.1,438.2 M94.7,431.7 L93.5,431.4 L92.2,431.3 M102,426.2 L102.7,425 L103.9,424.6 M104.5,444.1 L104,442.9 L103.1,442 M96.3,455.8 L97.5,455.3 L98.5,454.6 M109.5,455 L108.7,456.1 L107.4,456.1 M104.2,465.2 L105.3,466 L106.5,466.4"/>
<path fill="none" stroke="#705a50" stroke-width="0.7" stroke-linecap="round" stroke-linejoin="round" d="M102.3,444.2 L103.4,443.6 L104.4,442.8 M105.7,440.8 L105.1,442 L104.2,442.9 M102.1,433 L101.9,434.3 L100.8,434.8 M97.5,455.4 L98.5,454.5 L99.5,453.7 M100,497.7 L101.1,498.4 L102.3,498 M103.6,502.6 L102.6,503.4 L102.6,504.7 M96.8,496.6 L95.9,497.6 L95.2,498.7 M101.1,496.1 L99.8,495.9 L98.5,495.9 M95,470.4 L95.4,469.1 L95,467.9 M106.2,446.4 L106.9,447.5 L107.8,448.4 M98.6,470.5 L99.9,470.6 L101.2,470.2 M107,469.2 L107.4,470.4 L108.5,471.1 M105,499.3 L104.7,500.5 L104,501.6 M107.3,495.2 L106.5,496.2 L105.7,497.3 M102.4,435.6 L102,434.4 L102.4,433.2"/>
<path fill="none" stroke="#64503f" stroke-width="0.7" stroke-linecap="round" stroke-linejoin="round" d="M104.2,480.2 L105,481.1 L106.1,481.8 M105.4,452.5 L106.4,453.4 L107.6,453.7 M106.2,451 L105.9,449.7 L105,448.8 M97.8,493.4 L97.7,494.7 L97.8,496 M98.3,492.5 L98,493.8 L97.7,495 M97.6,443.7 L98.3,442.6 L99.5,442.1 M102.3,442.8 L103.5,442.2 L103.8,440.9"/>
<path fill="none" stroke="#83695c" stroke-width="0.7" stroke-linecap="round" stroke-linejoin="round" d="M99.4,462.3 L99.8,461 L99.4,459.8 M109.8,455.7 L109.6,457 L108.8,458.1 M96.6,501.5 L97.8,501.9 L98.6,502.9 M104.1,472.2 L104.7,471 L105,469.8 M101.7,429.3 L101.3,428 L100.2,427.3 M97.4,428 L96.6,429 L95.3,429.1 M106.7,448.8 L105.8,447.7 L104.6,447.6 M101.7,481.7 L100.7,482.5 L99.6,483.3 M104.6,488 L105.6,487.2 L106.9,486.9 M96,462.3 L97.1,461.6 L97.6,460.4 M101.1,471.5 L99.8,471.8 L98.5,471.9 M96.7,436.6 L95.4,436.8 L94.3,437.4"/>
<path fill="none" stroke="#3a2a22" stroke-width="0.7" stroke-linecap="round" stroke-linejoin="round" d="M99.9,445.9 L98.7,445.4 L98.1,444.2 M99,457.7 L97.7,457.8 L96.8,458.8 M97.6,474.6 L98.6,473.8 L99.7,473 M98.5,484.3 L98.5,483 L99,481.8 M104.2,463.1 L103.1,463.8 L102.6,465 M101,478.5 L101.8,477.5 L101.6,476.2 M97.3,427 L97.2,425.7 L98,424.7 M97.6,457.9 L97.3,456.6 L97.7,455.3 M103.4,467 L102.8,465.8 L103.2,464.5 M109.9,448.2 L111,447.5 L112.3,447.3 M103.4,476.8 L102.3,477.6 L102,478.8 M107,468.8 L105.8,469 L104.7,469.8 M102.7,477.2 L103.4,478.3 L104.6,478.6 M95.8,465.2 L94.7,464.6 L93.4,464.4 M108.6,465.6 L107.7,464.6 L106.5,464.3 M104.4,479.7 L105.6,479.2 L106.7,479.9 M105,439.9 L104.7,438.6 L103.9,437.6"/>
<path fill="none" stroke="#7a645a" stroke-width="0.7" stroke-linecap="round" stroke-linejoin="round" d="M102.3,492.9 L103.4,493.5 L104.7,493.4 M102.3,468.6 L102,469.8 L101.1,470.8 M102.7,474 L103.2,472.7 L102.9,471.5 M104.7,448.4 L103.7,447.6 L102.4,447.5 M105.2,437.8 L105.2,439.1 L105.5,440.3 M98,431 L96.9,431.7 L96.2,432.8 M95.3,453.9 L96.6,454.1 L97.5,453.2 M104.2,483.9 L104.4,482.7 L104.5,481.4 M108.4,443.3 L107.1,443 L106.1,443.9 M95,480.2 L94.3,479.1 L93.2,478.4 M102.2,439.2 L103.3,440 L103.8,441.2"/>
<path fill="none" stroke="#7d6558" stroke-width="1.1" stroke-linecap="round" stroke-linejoin="round" d="M108,500 Q112,480 118,462 Q124,444 128,436 Q131,431 134,430.5 M106,492 Q110,470 108,450 Q107,438 108,428"/>
<path fill="none" stroke="#857264" stroke-width="1" stroke-linecap="round" stroke-linejoin="round" d="M80,478 L75,470 L72,462 L68,458 L66,453 M76,470 L70,468 L66,462 L60,458 L54,456 M80,508 L74,511 L71,514 M79,452 L78,446 L76,443"/>
<path fill="none" stroke="#8a7868" stroke-width="1.6" stroke-linecap="round" d="M66.5,453 L67,450.5 M78,445 L77.5,442"/>
<path fill="none" stroke="#7a6052" stroke-width=".9" stroke-linecap="round" stroke-linejoin="round" d="M126,494 Q138,489 147.5,491 Q157,496 163,508.5 M110,478 L122,476 L134,477"/>
<path fill="#4a3024" opacity=".75" d="M102,521 L124,521 L132,545 L128,566 L116,572 L108,556 Z"/>
<path fill="none" stroke="#c0a484" stroke-width="1" stroke-linecap="round" stroke-linejoin="round" d="M109.2,521.2 L109.4,523.3 L109.6,525.4 L109.9,527.5 L110,529.6 L109.6,531.6 L110,533.7 L109.7,535.8 L109.6,537.9 L110,539.9 L110.1,542 L110.4,544.1 L110.8,546.2 L110.8,548.3 L111.5,550.2 L112.2,552.2 L113.2,554.1 M119.3,518.2 L120.3,520.1 L121.4,521.9 L122,523.9 L121.9,526 L121.1,527.9 L120.8,530 L120.4,532.1 L120.8,534.1 L121.1,536.2 L120.8,538.3 L120.1,540.3 L120.3,542.4 L121,544.3 L121.1,546.4 L121,548.5 L120.5,550.6 L121,552.6 L121.4,554.7 L122.5,556.5 L123.1,558.5 L123.2,560.6 L123.7,562.6 L125,564.3 L125.8,566.2 L125.7,568.3 L125.6,570.4 L125.8,572.5 L126.4,574.5 L126.5,576.6 L125.9,578.7 L125.8,580.8 L126.2,582.8 L125.9,584.9 L125.9,587 L126.2,589.1 L126.8,591.1 L127,593.2 L126.5,595.2 L126.3,597.3 L125.7,599.3 L125.5,601.4 L125.6,603.5 L125.3,605.6 L124.4,607.5 L123.5,609.4 L122.5,611.2"/>
<path fill="none" stroke="#5a3a2a" stroke-width="1" stroke-linecap="round" stroke-linejoin="round" d="M112.7,520.3 L113.5,522.3 L114.2,524.3 L115.4,525.9 L116.9,527.5 L117.7,529.4 L117.8,531.5 L118.3,533.5 L119.1,535.5 L119.9,537.4 L120.6,539.4 L121.3,541.4 L122,543.3 L122.5,545.4 L122.3,547.5 L121.9,549.5 L122.2,551.6 L123.1,553.5 L123.5,555.6 L123.6,557.7 L123.5,559.8 L123.9,561.8 L124.7,563.7 L125.2,565.8 L126.2,567.6 L127.2,569.5 L127.8,571.5 L128.3,573.5 L129.5,575.2 L130,577.3 L130,579.4 L130.7,581.3 L131.5,583.3 L132.8,585 L134.4,586.2 L135.4,588.1 L135.8,590.2 M104.4,519.3 L104.7,521.4 L105.4,523.4 L106,525.4 L106.6,527.4 L106.6,529.5 L106.7,531.6 L106.2,533.7 L105.6,535.7 L104.5,537.5 L104.3,539.6 L104.5,541.7 L105,543.7 L105.9,545.6 L106.6,547.6 L107.5,549.5 L108.1,551.5 L108.2,553.6 L108.1,555.7 L108.8,557.7 L109.3,559.7 L109.5,561.8 L109.1,563.9 L108.8,566 L109.2,568"/>
<path fill="none" stroke="#7e543c" stroke-width="1" stroke-linecap="round" stroke-linejoin="round" d="M117.2,519.4 L117.4,521.5 L117.4,523.6 L117.8,525.6 L117.6,527.7 L117,529.7 L116,531.6 L115.6,533.6 L115.4,535.7 L115.4,537.8 L115.9,539.9 L115.9,542 L115.8,544.1 L116.1,546.1 L116.4,548.2 L116,550.3 L115.6,552.4 L114.8,554.3 L114.1,556.3 L113,558 L112.8,560.1 L112.9,562.2 L113,564.3 L112.7,566.4 L111.9,568.3 L111.1,570.3 L110.6,572.3 L110.1,574.3 L109.8,576.4 L109.2,578.5 L108.2,580.3 L108.3,582.4 L108.7,584.4 L108.5,586.5 L109.2,588.5 L109.3,590.6 M122.4,527.4 L123.8,528.9 L125.4,530.3 L126.3,532.2 L127.7,533.7 L128.8,535.5 L129.1,537.6 L128.8,539.7 L128.2,541.7 L128.7,543.8 L129.2,545.8 L130.2,547.6 L131.6,549.2 L133.2,550.5 L134.4,552.3 L135.3,554.2 L136.7,555.7 L138.2,557.2 L140.1,558.2 L141.2,560 L141.8,562 L142.5,564 L142.5,566.1 L141.9,568.1 L142,570.2 L142.7,572.2 L143.8,573.9 L144.7,575.9 L145.3,577.9 L146,579.8 L146.2,581.9 L146.5,584 L147.2,586 L147.6,588.1 L147.4,590.1 L148.1,592.1 L148.8,594.1 L150.1,595.8"/>
<path fill="none" stroke="#5a3a2a" stroke-width="0.8" stroke-linecap="round" stroke-linejoin="round" d="M119.9,525 L121.1,526.7 L121.8,528.7 L121.9,530.8 L122.6,532.8 L122.6,534.9 L122.3,536.9 L122.6,539 L123.8,540.7 L124.3,542.8 L124.3,544.9 L125.1,546.8 L125.5,548.9 L125.5,551 L125.4,553.1 L125,555.1 L124.1,557 L123.7,559.1 L123.1,561.1 L122.1,562.9 L121.8,565 L121.4,567.1 L120.9,569.1 L120.2,571.1 L119.6,573.1 L119.7,575.2 L120.3,577.2 L120.9,579.2 L122.1,581 L122.6,583 L122.5,585.1 L123,587.2 L123.2,589.3 L123.3,591.4 L124.1,593.3 L124.4,595.4 L124.4,597.5 L124.9,599.5 L126,601.3 L127.3,602.9 L128.1,604.9 L129,606.8 L129.3,608.9 L130.2,610.7 L131.6,612.3 L133.1,613.8 M104.1,523 L104.1,525.1 L104.5,527.1 L105.5,529 L106.5,530.8 L107.2,532.8 L107.5,534.9 L107.7,537 L107.3,539.1 L106.5,541 L106.5,543.1 L106.3,545.2 L106.8,547.3 L107.5,549.2 L108.7,551 L110.1,552.5 L111.5,554.1 L112.1,556.1 L112.3,558.2 L113.1,560.1 L114.2,561.9 L114.9,563.9 L115.4,565.9 L116.5,567.7 L118,569.2 L119,571 L119.8,573 L121,574.7 L121.5,576.8 L122.3,578.7 L122.9,580.7 L123.2,582.8 L123.8,584.8 L123.5,586.9 L123.4,589 L123.5,591.1 L123.5,593.2 L123,595.2 L121.9,597 L120.6,598.6 L119.5,600.4 L118.3,602.2 L117.2,604 M123.8,527.3 L124.7,529.2 L125.2,531.3 L125,533.4 L124.4,535.4 L123.8,537.4 L122.8,539.2 L121.7,541 L121.4,543.1 L121.9,545.1 L123.1,546.9 L123.7,548.9 L124.2,550.9 L125,552.9 L125.9,554.8 L126.1,556.8 L126.6,558.9 L126.6,561 L126.2,563 L125.5,565 L124.8,567 L125,569.1 L125.2,571.2"/>
<path fill="none" stroke="#4a2e20" stroke-width="0.8" stroke-linecap="round" stroke-linejoin="round" d="M111.2,519.5 L110.6,521.5 L110.6,523.6 L110.5,525.7 L110.9,527.8 L111.3,529.8 L111.6,531.9 L111.3,534 L110.4,535.9 L109.2,537.6 L108.2,539.4 L106.8,541 L106.3,543.1 L105.3,544.9 L104.3,546.7 L103,548.4 L102.1,550.3 L100.7,551.9 L100.4,554 L99.6,555.9 L100.3,557.7 L100.4,559.7"/>
<path fill="none" stroke="#c0a484" stroke-width="0.8" stroke-linecap="round" stroke-linejoin="round" d="M118.9,524.8 L118.7,526.9 L118.7,529 L118.8,531.1 L119.5,533.1 L120.4,535 L121.2,537 L122,538.9 L121.9,541 L121.9,543.1 L122.4,545.1 L123.6,546.9 L125.1,548.4 L126.6,549.9 L127.5,551.8 L127.7,553.9 L128.3,555.8 L128.5,557.9 L128.8,560 L129.1,562.1 L129.4,564.2 L130.4,566 L131.9,567.5 L132.9,569.3 L133.6,571.3 L134.4,573.3 L134.4,575.4 L134,577.4 L134.1,579.5 L135,581.4 L135.7,583.4 L136.1,585.5 M119.6,530 L120,532.1 L119.9,534.1 L120.4,536.2 L121.1,538.1 L121.1,540.2 L121.8,542.2 L122.9,544 L123.8,545.9 L124.3,547.9 L124.7,550 L124.3,552.1 L123.9,554.1 L124.5,556.2 L125.8,557.9 L127.5,559.1 L129,560.5 L130.9,561.5 L132.5,562.9 L133.7,564.5 L135.2,566 L136.1,567.9 L137,569.8 L137.1,571.9 L137.5,574 L137.8,576.1 L138.1,578.1 L138.8,580.1 L139.1,582.2 L140.2,584 L141.5,585.6 L142.9,587.2 L143.6,589.2 L144.2,591.2 L145.6,592.8 L147,594.4 L148.1,596.1 L148.6,598.2 L149.7,599.9 L150.3,602 L151.1,603.9 L151.8,605.9 L152.6,607.8 L153.4,609.8 L153.4,611.9 L152.9,613.9 L151.9,615.8 L150.9,617.6"/>
<path fill="none" stroke="#7a5440" stroke-width="0.6" stroke-linecap="round" stroke-linejoin="round" d="M114.5,524.9 L115,526.9 L115,529 L115,531.1 L114.6,533.2 L113.7,535 L113.2,537.1 L112.2,538.9 L112.2,541 L111.8,543.1 L112.3,545.1 L112.7,547.2 L113.3,549.2 L113.4,551.3 L113.9,553.3 L114.9,555.2 L115.3,557.2 L115.6,559.3 L115.5,561.4 L115.6,563.5 L116.5,565.4 L116.8,567.5 L117.7,569.4 L118.5,571.4 L119.9,572.9 L121.4,574.4 L122.5,576.2 L123.1,578.2 L123.4,580.3 L123.8,582.3"/>
<path fill="none" stroke="#7e543c" stroke-width="0.8" stroke-linecap="round" stroke-linejoin="round" d="M109.9,521.9 L110.7,523.8 L111,525.9 L111,528 L111.5,530 L111.9,532.1 L111.5,534.2 L111.9,536.2 L112.4,538.3 L112.7,540.3 L113.2,542.4 L113.7,544.4 L114.2,546.5 L115.3,548.2 L115.6,550.3 L115.9,552.4 L116.4,554.4 L116.8,556.5 L116.7,558.6 L117.4,560.6 L118.1,562.5 L118.5,564.6 L119.3,566.5 L120.5,568.3 L121.4,570.2 L121.6,572.3 L122.2,574.3 L123.1,576.2 L123.6,578.2 L124.4,580.1 L125.5,581.9 L126.8,583.6 L128.3,585.1 L129.5,586.8 L131,588.3 L132.1,590.1 L132.9,592 L133.1,594.1 L133.5,596.1 L134.6,598 L135.2,600 L136.2,601.8 L137,603.8 L137.7,605.7"/>
<path fill="none" stroke="#7a5440" stroke-width="0.8" stroke-linecap="round" stroke-linejoin="round" d="M109.1,524.5 L110.2,526.3 L111.3,528.1 L112.2,530 L113.4,531.8 L114.1,533.7 L115.3,535.4 L116.1,537.4 L116.8,539.4 L116.8,541.5 L117.6,543.4 L118.9,545.1 L119.9,546.9 L120.8,548.8 L120.9,550.9 L120.7,553 L121.1,555.1 L120.8,557.2 L120.7,559.3 L120.7,561.4 L120.6,563.5 L121.1,565.5 L121.5,567.6 L122.4,569.5 L122.6,571.6 L123.3,573.6 L124.5,575.3 L125.4,577.2 L125.9,579.2 L126.7,581.1 L127.4,583.1 L128.2,585 L128.3,587.1 L128.6,589.2 L128.6,591.3 L128.6,593.4 L127.9,595.4 L127.4,597.4 L127,599.5 L126.1,601.4 L125,603.2 L124.3,605.2 L124.4,607.3 L124.2,609.4 L124.5,611.4 L124.5,613.5 L124.6,615.6 L124.2,617.7 M116.6,523.1 L117.4,525 L118.2,526.9 L118.9,528.9 L119.8,530.8 L120.8,532.6 L121.9,534.5 L123,536.3 L123.2,538.3 L124.2,540.2 L125.8,541.6 L126.8,543.4 L127.9,545.2 L129,547 L129.9,548.9 L130.9,550.8 L132.1,552.5 L133.8,553.7 L134.9,555.5 L135.1,557.6 L135.8,559.6 L136.5,561.6 L137.5,563.4 L138.9,564.9 L139.7,566.9 L139.9,569 L140.5,571 L141.6,572.8 L142.2,574.8 L142.4,576.9 L142.7,579 L143.2,581 L144.2,582.9 L144.6,584.9 L144.5,587 L144,589 L144.3,591.1 L144.5,593.2"/>
<path fill="none" stroke="#4a2e20" stroke-width="0.6" stroke-linecap="round" stroke-linejoin="round" d="M104.4,524.7 L105,526.7 L104.7,528.8 L104.8,530.9 L104.3,532.9 L103.6,534.9 L103.2,537 L102.5,539 L102.3,541.1 L101.9,543.1 L102,545.2 L101.9,547.3 L101.7,549.4 L101.7,551.5 L101.1,553.5 L100.4,555.4 L101,557.5 L100.7,559.6 L100.7,561.7 L100.5,563.6 L100.5,565.4 L99.6,567.4 L100.6,569.5 L100.3,571.5 L100.5,573.6 L100.4,575.7 L99.5,577.8 L100.3,579.8 L100.8,581.9 L99.6,584 L100.4,586 L100.8,588 L99.8,590.1 L100.2,592.1 L100.3,593.8 L100.7,595.3 M122.9,526.1 L124.2,527.7 L125.6,529.3 L126.2,531.3 L127,533.3 L127.5,535.3 L128.7,537 L129.4,539 L129.5,541.1 L130,543.2 L130.7,545.1 L131.3,547.1 L132.4,549 L133.8,550.5 L135.4,551.8 L136.7,553.5 L137.8,555.3 L138.1,557.3 L137.8,559.4 L137.1,561.4 L136,563.2 L134.8,564.9 L134.8,567 L135.4,569 L135.4,571.1 L134.9,573.1 L134.4,575.2 L134.1,577.3 L134,579.4 L134.3,581.4 L135.2,583.3 L136,585.3 L137.1,587.1 L138.6,588.5 L139.4,590.5 L140.1,592.5 L140.2,594.6 L140.7,596.6 L141.2,598.6 L142,600.6 L142.3,602.6 L143.2,604.6 L143.8,606.6 L144.3,608.6 L145.1,610.5 L146.5,612.1 L147.8,613.8 L148.9,615.6 L149.4,617.6 L150.4,619.4 L151.8,621 M114.6,518.2 L114.5,520.3 L114.1,522.3 L113.8,524.4 L113,526.4 L113,528.5 L112.9,530.5 L112.2,532.5 L111.2,534.4 L110.4,536.3 L109.6,538.3 L109.2,540.3 L109.3,542.4 L109.4,544.5 L110.1,546.5 L111,548.4 L111.8,550.4 L113,552 L114.3,553.7 L115.9,555.1 L116.8,557 L117.4,559 L117.7,561.1 L118.2,563.1 L118.2,565.2 L118,567.3 L118.2,569.4 L118.4,571.4 L118.9,573.5 L118.6,575.6 L118.7,577.7 L118,579.7 L117.4,581.7 L116.5,583.6 L116.4,585.6 L116.7,587.7 L116.8,589.8 L116.2,591.8 L116.3,593.9 L116.4,596 L116.1,598.1 L115.9,600.2 L116.2,602.3 L117,604.2 L117.3,606.3 L117.6,608.4 L118.2,610.4 M119.1,520.4 L119.7,522.4 L119.6,524.5 L119.2,526.6 L119.4,528.7 L119.3,530.8 L118.8,532.8 L119.1,534.9 L118.8,537 L118.9,539.1 L119.4,541.1 L120.2,543 L120.8,545 L121.5,547 L122.4,548.9 L123.9,550.4 L125,552.2 L125.8,554.1 L126.1,556.2 L126.8,558.2 L126.8,560.3 L127.7,562.2 L129.1,563.8 L130.9,564.9 L132.4,566.3 L133.7,568 L135.3,569.4 L136.6,571 L138.4,572.2 L140.3,572.9 L141.6,574.6 L142.2,576.6 L143.4,578.3 L144.2,580.3"/>
<path fill="none" stroke="#6e4c3a" stroke-width="1" stroke-linecap="round" stroke-linejoin="round" d="M123.9,521.7 L124.1,523.8 L123.8,525.8 L123.7,527.9 L123.3,530 L122.8,532 L121.8,533.9 L120.5,535.6 L119.5,537.4 L118.5,539.2 L118.1,541.3 L118.2,543.4 L118.3,545.5 L118.8,547.5 L118.9,549.6 L119.8,551.5 L120.7,553.4 L121.5,555.4 L121.9,557.4 L122.7,559.4 L123.7,561.2 L124.4,563.2 L124.5,565.3 L123.9,567.3 M127.7,518.7 L128.1,520.8 L129,522.7 L130.2,524.4 L131.9,525.6 L133.7,526.6 L134.8,528.4 L136.3,529.9 L137.7,531.5 L138.3,533.5 L139.4,535.3 L141,536.6 L142.7,537.9 L144.3,539.3 L146.1,540.4 L147.2,542.2 L148.4,543.9 L150,545.3 L151.8,546.2 L153.5,547.5 L155,549 L155.9,550.9 L157.4,552.4 L158.5,554.2 L160.1,555.5 M111.9,518.5 L112.4,520.6 L113.4,522.4 L113.6,524.5 L113.7,526.6 L113.8,528.7 L113.3,530.7 L112.4,532.7 L111.3,534.5 L110.7,536.4 L110.2,538.5 L110.3,540.6 L110.1,542.7 L109.4,544.7 L109.3,546.8 L110.1,548.7 L110.5,550.8 L110.5,552.9 L110.3,555 L110.5,557.1 L110.5,559.2 L111.1,561.2 L111.1,563.3 L110.5,565.3"/>
<path fill="none" stroke="#6e4c3a" stroke-width="0.8" stroke-linecap="round" stroke-linejoin="round" d="M105.3,528.7 L105.3,530.8 L105.9,532.8 L106.9,534.7 L107.8,536.6 L109,538.3 L110.1,540 L111,542 L111.5,544 L112,546 L112,548.1 L112.5,550.2 L113.3,552.1 L113.1,554.2 L112.4,556.2 L111.1,557.9 L109.8,559.5 L108.6,561.3 L107.3,562.9 L106.1,564.6 L105.7,566.7 L105.8,568.8 L106.5,570.8 L106.4,572.9 L106.6,575 L106.9,577 L107.1,579.1 L107.8,581.1 L108,583.2 L107.7,585.3 L107,587.2 L105.8,589 L105.1,591 L105.1,593.1 L104.7,595.1 L104.1,597.1 L103.7,599.2 L103.7,601.3 L104.2,603.3 L104.1,605.4 L104,607.5 L103.4,609.5 L103.2,611.6 L103.3,613.7 L103.3,615.8 L102.9,617.9 L102,619.8 L101.5,621.8 L100.8,623.8 L100.5,625.8 L100.2,627.7 M120.3,525.9 L121,527.9 L122.4,529.4 L123.2,531.4 L123.6,533.4 L123.4,535.5 L123.7,537.6 L124.5,539.5 L125,541.6 L126,543.4 L126.2,545.5 L126.3,547.6 L126.4,549.7 L127.4,551.6 L128.6,553.3 L129.8,555 L130.2,557.1 L131.1,558.9 L131.9,560.9 L133.3,562.5 L133.8,564.5 L133.9,566.6 L133.7,568.7 L133.2,570.8 L133.5,572.9 L134.4,574.8 L135.8,576.3 L137,578.1 L138.6,579.4 L140.3,580.6 L142.2,581.5 L143.4,583.2 L144.1,585.2 L145.1,587.1 L145.2,589.2 L146.1,591.1 L147.4,592.8 M116,529.3 L115.7,531.4 L115.1,533.4 L115.4,535.5 L115.8,537.5 L116.1,539.6 L116.1,541.7 L116,543.8 L115.3,545.8 L114.4,547.7 L113.6,549.6 L113.3,551.7 L114,553.7 L115.3,555.3 L116.1,557.3 L116.7,559.3 L116.5,561.4 L115.8,563.3 L115.8,565.4 L115.8,567.5 L116.3,569.6 L116.7,571.6 L117.8,573.4 L118.5,575.4 L119.3,577.4 L119.6,579.4 L119.6,581.5 L119.9,583.6 L120.2,585.7 L120.7,587.7 L121.1,589.8 L121.8,591.8 L122.8,593.6 L123.9,595.4 L125.3,597 L126,599 L127.2,600.7 L127.5,602.8 L127.4,604.9 L126.9,606.9 L126.7,609"/>
<path fill="none" stroke="#8c644c" stroke-width="1" stroke-linecap="round" stroke-linejoin="round" d="M126.9,518.1 L127.5,520.1 L128.7,521.8 L129.9,523.5 L130.5,525.5 L131.3,527.5 L131.9,529.5 L133.2,531.1 L134.4,532.9 L134.8,534.9 L135.4,536.9 L136.6,538.7 L137.8,540.4 L139.2,541.9 L140.3,543.7 L141.1,545.7 L141.9,547.6 L142.7,549.6 L142.8,551.7 L142.4,553.7 L142.1,555.8 L141.9,557.9 L141.9,560 L142,562.1 L141.7,564.2 L140.9,566.1 L140.8,568.2 L141,570.3 L141.4,572.3 L141.9,574.4 L142.1,576.5 L142.3,578.5 L141.9,580.6 L141.5,582.7 L141.8,584.8 L142.6,586.7 L143.7,588.5 L145,590.1 L146.3,591.8 L147.7,593.4 L149.5,594.4 L151.2,595.7 L152.1,597.6 L152.6,599.6 L153.2,601.6 L153.5,603.7 L153.5,605.8 L153.5,607.9 M123.4,526.3 L124.8,527.9 L125.9,529.7 L126.8,531.6 L128.4,533 L130,534.4 L131.6,535.7 L132.9,537.4 L133.6,539.3 L133.9,541.4 L133.6,543.5 L133.9,545.5 L134.4,547.6 L135.4,549.4 L136,551.4 L137.4,553 L139.1,554.2 L140.3,556 L141.2,557.9 L141.3,560 L142.3,561.8 L143.6,563.4 L144.8,565.2 M113.2,518.7 L112.5,520.7 L111.9,522.7 L111.9,524.8 L111.8,526.9 L112.1,529 L112.4,531 L112.4,533.1 L113.1,535.1 L113.8,537.1 L114.6,539 L115.1,541 L115.1,543.1 L115.2,545.2 L115.1,547.3 L115.4,549.4 L116,551.4 L116.6,553.4 L117,555.5 L117.8,557.4 L118.1,559.5 L118.3,561.6 L118.8,563.6 L119.6,565.6 L119.8,567.7 L119.3,569.7 L118.3,571.5 L117.9,573.6 L118.3,575.7 L118.5,577.8 L119.5,579.6 L119.7,581.7 L119.6,583.8 L119.9,585.9 L120.2,588 L120.2,590.1 L120.8,592.1 L121.6,594.1 L121.7,596.1 L121.6,598.2 L121.4,600.3 L122,602.4 L122.9,604.3 L124,606 L125.5,607.5 L126.6,609.2 M110.3,523.2 L110.2,525.3 L109.9,527.4 L109.4,529.4 L109.5,531.5 L110.3,533.5 L110.8,535.5 L111.6,537.4 L112.1,539.5 L112.4,541.6 L113,543.6 L113.3,545.6 L113.1,547.7 L112.9,549.8 L112.8,551.9 L112,553.9 L110.8,555.6 L109.4,557.1 L107.8,558.4 L106.7,560.3 L105.4,561.9 L104,563.5 L102.7,565.1 L101.4,566.8 L100.5,568.7 L100.4,570.5 L99.8,572.4 L100.8,574.2 L99.6,576 L100.8,577.9"/>
<path fill="none" stroke="#6a4634" stroke-width="0.8" stroke-linecap="round" stroke-linejoin="round" d="M116,526.5 L116.2,528.6 L117.1,530.5 L118.1,532.3 L118.3,534.4 L118.9,536.4 L119.7,538.4 L120.3,540.4 L121.3,542.2 L121.8,544.3 L122.1,546.4 L123,548.2 L123.2,550.3 L124.1,552.2 L124.6,554.3 L125.3,556.2 L126.5,558 L128.1,559.4 L128.7,561.4 L128.9,563.5 L129.1,565.5 L128.9,567.6 L128.2,569.6 L127,571.3 L126.1,573.2 L125.9,575.3 L125.7,577.4 L125,579.4 L124.1,581.3 L123.3,583.2 L122.2,585 L121.5,587 L121.1,589.1 L120.2,591 L120.1,593.1 L119.6,595.1 L120,597.2 L120.4,599.2 L120.7,601.3 L121.6,603.2 L121.7,605.3 L122,607.4 L122.8,609.3 L123.6,611.2 L124.3,613.2 L125,615.2 L126.3,616.8 L128,618.1 L129.2,619.8 L130.7,621.3 L132.3,622.7 L133.2,624.6 L133.5,626.6 M109.3,528.9 L109.7,530.9 L109.9,533 L110.8,534.9 L111.4,536.9 L111.4,539 L111.5,541.1 L111.6,543.2 L111,545.2 L111.1,547.3 L110.8,549.4 L110.5,551.5 L110.5,553.6 L111.2,555.6 L111.3,557.7 L112,559.6 L112.6,561.7 L113.8,563.4 L114,565.5 L113.7,567.6 L113.6,569.7 L112.8,571.6 L113.1,573.7 L113.2,575.8 L114.1,577.7 L114.3,579.8 L114.9,581.9 L116,583.6 L116.6,585.6 L117.7,587.5 L118.6,589.4"/>
<path fill="none" stroke="#7e543c" stroke-width="0.6" stroke-linecap="round" stroke-linejoin="round" d="M117.3,527.8 L118,529.8 L118.9,531.7 L120.2,533.4 L121.3,535.1 L122.2,537.1 L123,539 L124.4,540.6 L125.5,542.4 L125.9,544.4 L126.8,546.3 L127.4,548.3 L127.6,550.4 L128.5,552.3 L128.5,554.4 L128.5,556.5 L128,558.6 L128,560.7 L128.3,562.8 L128.7,564.8 L129.4,566.8 L130,568.8 L131,570.7 L132,572.5 L133.2,574.2 L134.3,576 L135.8,577.5 L136.7,579.4 L137.5,581.3 L137.6,583.4 M122.6,520.5 L123.6,522.3 L124.8,524.1 L125.4,526.1 L125.8,528.1 L126.3,530.2 L126.5,532.3 L126.7,534.4 L127.3,536.4 L127.8,538.4 L129,540.2 L130.3,541.8 L132,543 L132.8,545 L133,547.1 L133,549.2 L133.7,551.1 L133.8,553.2 L134.3,555.3 L134.4,557.4 L134.4,559.5 M122.6,523.2 L122.7,525.3 L122.3,527.3 L122,529.4 L121.4,531.4 L121.1,533.5 L121.7,535.5 L122.4,537.5 L122.8,539.6 L123.6,541.5 L123.9,543.6 L123.8,545.7 L124.5,547.6 L125.3,549.6 L125.7,551.7 L125.8,553.7 L125.4,555.8 L125.7,557.9 L126.4,559.9 L127.4,561.7 L127.8,563.8 L128.8,565.6 L129.1,567.7 L128.8,569.8 L129.2,571.9 M123.1,524.9 L123.8,526.9 L124.2,528.9 L125.2,530.8 L125.9,532.8 L127.3,534.3 L128.9,535.7 L130.7,536.7 L132.5,537.9 L133.8,539.5 L135.6,540.7 L136.7,542.5 L138.2,543.9 L139,545.8 L139.1,547.9 L139.1,550 L138.7,552.1 L137.9,554 L137.5,556.1 L136.8,558.1 L137.2,560.1 L137.2,562.2 L137.1,564.3 L136.8,566.4 L137.3,568.4 L138.4,570.2 L139.5,572 L140.3,573.9 L140.8,576 L141.9,577.8 L142.8,579.7 L142.9,581.8 L143.6,583.8 L143.7,585.9 L143.3,587.9 L142.8,590 L142.7,592.1 L143,594.2 L143.4,596.2 L144.4,598 L146,599.5 L147.6,600.8"/>
<path fill="none" stroke="#c0a484" stroke-width="0.6" stroke-linecap="round" stroke-linejoin="round" d="M126.8,525.1 L127.1,527.2 L127.5,529.3 L127.3,531.4 L126.6,533.4 L126.9,535.4 L128.1,537.2 L129.6,538.6 L130.6,540.5 L131.8,542.2 L133.3,543.7 L134,545.6 L135.5,547.2 L137,548.6 L138.5,550.1 L140.2,551.4 L142,552.5 L143.9,553.3 L145.4,554.7 L146.3,556.6 L147.7,558.2 L149.4,559.5 L150.3,561.4 L151.6,563 L152.3,565 L153.5,566.7 L154.9,568.3"/>
<path fill="none" stroke="#6e4c3a" stroke-width="0.6" stroke-linecap="round" stroke-linejoin="round" d="M122.7,518.7 L123.7,520.6 L125.2,522 L126.7,523.5 L128.6,524.5 L130.2,525.8 L131.2,527.7 L131.7,529.7 L132.4,531.6 L133.6,533.4 L134,535.5 L135.1,537.2 L135.7,539.2 L135.8,541.3 L136.7,543.2 L136.9,545.3 L137,547.4 L137.5,549.5 L138.1,551.5 L138.7,553.5 L139.2,555.5 L139.2,557.6 L138.8,559.7 L139,561.8 L140,563.6 L140.6,565.6 L141,567.7 L141.3,569.7 L142.3,571.6 L143.9,573 L144.7,574.9 L145.8,576.7 L146.8,578.5 L147.1,580.6 L148,582.5 L148.6,584.5 L150,586.1 L151.1,587.9 M117.6,521.9 L117.7,524 L118.1,526 L118.9,528 L119.8,529.9 L119.8,532 L119.2,534 L118.1,535.8 L117.2,537.7 L115.8,539.4 L115.2,541.4 L115.2,543.5 L114.8,545.5 L114.1,547.5 L114.1,549.6 L113.7,551.6 L113.8,553.7 L114.7,555.7 L116.1,557.2 L117.3,558.9 L118.3,560.8 L118.6,562.9 L118.2,564.9 L118.5,567 L118.2,569.1 L117.6,571.1 L117.3,573.2 L117.7,575.2 L118.1,577.3 L118.4,579.4 L118.2,581.5 L119,583.4 L118.9,585.5 L119.3,587.6 L119.2,589.7 L118.5,591.7 L117.7,593.6 L116.6,595.4 L115.5,597.2 L114.1,598.7 L113,600.5 L111.9,602.3 L111,604.2 L110.3,606.2 L110,608.3 L110.3,610.4 L110.6,612.4 L111.5,614.3 L112.7,616.1 L114.1,617.6 L115.5,619.1 L117.3,620.3 L118.4,622.1 M110.3,520.8 L111.4,522.5 L112.5,524.3 L113.4,526.2 L114.7,527.8 L115.1,529.9 L115.4,532 L115.7,534 L116.8,535.9 L118.1,537.5 L119.4,539.2 L120.3,541.1 L121.5,542.8 L122.6,544.6 L123.8,546.3 L124.8,548.1 L125.4,550.2 L125.8,552.2 L125.9,554.3 L125.8,556.4 L126.5,558.4 L126.8,560.5 L127.2,562.5 L127.1,564.6 L126.4,566.6 L126.2,568.7"/>
<path fill="none" stroke="#a88468" stroke-width="1" stroke-linecap="round" stroke-linejoin="round" d="M111.5,523.8 L111.8,525.9 L111.8,528 L112.1,530 L111.8,532.1 L111.1,534.1 L110.2,536 L109.4,538 L109.3,540.1 L108.6,542 L107.5,543.8 L106,545.3 L105.1,547.2 L104.1,549 L103,550.9 L101.8,552.6 L100.5,554.2 L100.3,556.1 L100.6,558.1 L100.2,560.1 L100,562 L100.8,564 L100.1,565.9 L100.1,568 L99.8,569.9 L100.2,571.8 L100.6,573.4 L100,575.4 L101.1,577.2 L101.5,579.2 L102.4,581.1 L103.7,582.8 L104.4,584.8 L104.8,586.8 L105.3,588.9 L105.6,590.9 L105.9,593 L105.5,595.1 L105.2,597.2 L105,599.3 L105,601.4 L105.3,603.4 L105.2,605.5 L105.9,607.5 M107.8,524.1 L108.6,526 L108.8,528.1 L109.6,530 L110.7,531.8 L111.5,533.7 L112.7,535.4 L114.1,537 L114.9,539 L115.4,541 L116.4,542.9 L116.6,544.9 L116.4,547 L116.5,549.1 L116.2,551.2 L116.6,553.3 L116.3,555.4 L115.4,557.2"/>
<path fill="none" stroke="#6a4634" stroke-width="0.6" stroke-linecap="round" stroke-linejoin="round" d="M120.6,518.5 L121.4,520.4 L122.7,522.1 L124.2,523.6 L125.1,525.5 L125.9,527.4 L127.3,529 L128.8,530.5 L130.2,532.1 L132,533.1 L134,533.8 L135.8,534.8 L137.8,535.6 L139.2,537.1 L140.9,538.4 L142.1,540.1 L142.7,542.1 L143.7,544 L144.6,545.9 L144.6,548 L144.6,550.1 L145,552.1 L144.7,554.2 L145,556.3 L144.6,558.4 L144.8,560.5 L145.3,562.5 L146.1,564.4 L146.7,566.5 L146.6,568.6 L146.5,570.7 L147,572.7"/>
<path fill="none" stroke="#8c644c" stroke-width="0.8" stroke-linecap="round" stroke-linejoin="round" d="M121.8,523.9 L123,525.6 L123.7,527.6 L125,529.2 L125.8,531.1 L126.1,533.2 L126.9,535.1 L127.5,537.1 L128.5,539 L129.5,540.8 L131,542.3 L132.6,543.6 L134.5,544.5 L135.8,546.2 L137,547.9 L137.5,549.9 L137.8,552 L138.2,554.1 L139.3,555.9 L139.8,557.9 L141.1,559.6 L142.6,561 L143.6,562.9 L144.8,564.6 L146.3,566 L147.7,567.6 L148.8,569.4 L149.7,571.3 L150.1,573.3 L151.2,575.2 L152.1,577.1 L153.4,578.6 L154.1,580.7 L155.1,582.5 L155.6,584.5 L155.8,586.6 L156,588.7 L155.6,590.8 L154.6,592.6 L154.4,594.7 L154.6,596.8 L154.1,598.9 L154.3,601 L155.3,602.8 L155.5,604.9 L156.2,606.9 L156.2,609 L156.8,611 L157,613.1 L158,614.9 L158.5,617 L158.5,619.1"/>
<path fill="none" stroke="#a88468" stroke-width="0.6" stroke-linecap="round" stroke-linejoin="round" d="M117,520.8 L116.9,522.9 L117.7,524.9 L117.9,527 L118.5,529 L118.8,531.1 L119.2,533.1 L119.7,535.2 L120.7,537 L120.9,539.1 L121,541.2 L121.6,543.2 L122.6,545.1 L123.8,546.8 L125,548.5 L125.3,550.6 L125.1,552.7"/>
<path fill="none" stroke="#5a3a2a" stroke-width="0.6" stroke-linecap="round" stroke-linejoin="round" d="M123.6,526.1 L123.9,528.2 L124.9,530.1 L126,531.9 L126.4,533.9 L127.6,535.7 L128.6,537.5 L130,539 L131.8,540.2 L133.7,541.1 L135.6,542 L137.3,543.3 L138.1,545.2 L139.4,546.8 L140.9,548.3 L142,550.1 L143.3,551.7 L145,553 L146.4,554.6 L147.3,556.4 L148.5,558.2 L149.1,560.2 L150.2,562 L150.6,564.1 L150.9,566.1 L151.2,568.2"/>
<path fill="none" stroke="#a88468" stroke-width="0.9" stroke-linecap="round" stroke-linejoin="round" d="M128,535 L129.8,535.9 L131.6,536.8 L133.2,537.9 L134.5,539.5 L135.2,541.3 L136.2,543.1 L137.7,544.4 L139,545.9 L140,547.6 L140.9,549.4 L141.3,551.4 L141.2,553.4 L141,555.4 L140.3,557.3 L140.3,559.3 L139.7,561.2 L138.9,563 L138.7,565 L139.1,567 L139.3,568.9 L139.8,570.9 L139.7,572.9 L140,574.9 L140.3,576.8 L140.6,578.8 L140.2,580.8 L140.3,582.8 L139.7,584.7 L138.9,586.5 L138.1,588.4 L136.8,589.9 L135.2,591 L133.4,592 L131.7,593 L130.5,594.6 L129.8,596.5 L128.9,598.3 L128.7,600.3 L128.3,602.2 L128.2,604.2 M124,530 L125.8,530.9 L127.2,532.3 L128.2,534 L128.9,535.9 L129.7,537.8 L130.4,539.6 L130.4,541.6 L129.9,543.6 L129.2,545.4 L129.3,547.4 L128.8,549.4 L129.1,551.4 L129.9,553.2 L130.6,555.1 L131.7,556.7 L132.4,558.6 L132.9,560.5 L133.9,562.3 L134.3,564.3 L133.9,566.2 L133.4,568.2 L132.4,569.8 L131,571.3 L129.8,572.9"/>
</g>
</g>

<!-- ARROWS -->
<g id="arrows">
  <!-- A: Exogenous JA -> photo1 -->
  <path class="sh" fill="url(#gA)" d="M211.5,123 L225.7,107.4 L225.7,116.8 L590,116.8 L590,129.1 L225.7,129.1 L225.7,138.6 Z"/>
  <!-- B: Exogenous JA -> ASA1 -->
  <path class="sh" fill="url(#gB)" d="M725,115.4 L800,115.4 A43.3,43.6 0 0 1 843.3,159 L843.3,226.8 L851.9,226.8 L835.5,242.8 L818.9,226.8 L828.7,226.8 L828.7,159 A28.7,29.3 0 0 0 800,129.7 L725,129.7 Z"/>
  <!-- C: ASA1 -> IPA -->
  <path class="sh" fill="url(#gC)" d="M729.6,263.2 L743.7,247.3 L743.7,256.8 L790,256.8 L790,269.7 L743.7,269.7 L743.7,279.2 Z"/>
  <!-- D: IPA -> Endogenous IAA -->
  <path class="sh" fill="url(#gD)" d="M571.3,262.6 L584.5,246.6 L584.5,256.6 L690,256.6 L690,268.8 L584.5,268.8 L584.5,278.6 Z"/>
  <!-- E: Endogenous IAA -> CRL1/WOX11 (curved) -->
  <path fill="url(#gE)" stroke="#4a66dc" stroke-width="1.2" stroke-linejoin="round" d="M428,257.4 C392,257.6 346,258.4 322.5,270.3 L340,270.3 C353,268.4 386,267.7 428,267.5 Z"/>
  <path fill="url(#gE2)" stroke="#4a62d6" stroke-width=".8" stroke-linejoin="miter" d="M315.4,270.6 L339.8,270.6 L327.4,282.5 Z"/>
  <!-- F: Endogenous JA -> CRL1/WOX11 -->
  <path class="sh" fill="url(#gF)" d="M385.8,345.8 L399,330 L399,339.5 L775,339.5 L775,351.8 L399,351.8 L399,361.7 Z"/>
  <!-- G: CRL1/WOX11 -> ARs differentiation -->
  <path class="sh" fill="url(#gG)" d="M176.4,345.5 L190.5,329.6 L190.5,339.3 L275,339.3 L275,351.6 L190.5,351.6 L190.5,361 Z"/>
  <!-- H: Exogenous IAA -> Endogenous JA -->
  <path class="sh" fill="url(#gH)" d="M705,682.3 L798.6,682.3 A45,45 0 0 0 843.6,637.3 L843.6,406.4 L851.7,406.4 L835.6,390.9 L819.6,406.4 L828.8,406.4 L828.8,637.3 A30.2,30 0 0 1 798.6,667.3 L705,667.3 Z"/>
  <!-- I: Exogenous IAA -> photo2 (High concentration) -->
  <path class="sh" fill="url(#gI)" d="M570,681.6 L122.5,681.6 A26.5,26.5 0 0 1 96,655 L96,638.4 L88.8,638.4 L101.9,625.5 L115,638.4 L108.5,638.4 L108.5,655.5 A13.4,13.4 0 0 0 122,668.9 L570,668.9 Z"/>
</g>

<!-- NODES -->
<g id="nodes">
  <ellipse class="ol" cx="656" cy="122.3" rx="73.7" ry="49"/>
  <ellipse class="ol" cx="497.2" cy="262.1" rx="73.6" ry="34.6"/>
  <ellipse class="ol" cx="707.7" cy="262.7" rx="22" ry="15.2"/>
  <ellipse class="ol" cx="836.1" cy="345.8" rx="67.7" ry="44.5"/>
  <ellipse class="ol" cx="99.7" cy="345.4" rx="76.5" ry="60.3"/>
  <ellipse class="ol" cx="635.9" cy="675" rx="73.4" ry="41.2"/>
  <ellipse cx="327.5" cy="345.6" rx="58" ry="63.4" fill="#fff" stroke="#c9252c" stroke-width="1.3"/>
  <rect class="ol" x="788.6" y="243.2" width="81.4" height="39.4"/>
  <rect class="ol" x="607.3" y="212.1" width="58.3" height="31.3"/>
  <rect class="ol" x="286.3" y="301.6" width="81.9" height="39.7"/>
  <rect class="ol" x="286.3" y="350.1" width="81.9" height="39.1"/>
  <rect class="ol" x="312.3" y="623.2" width="72.3" height="31.3"/>
  <rect class="ol" x="731.1" y="623.5" width="57.5" height="34.5"/>
  <rect class="ol" x="850.9" y="505.7" width="35.4" height="85.7"/>
</g>

<!-- J: Exogenous IAA -> photo2 (Low concentration, diagonal) -->
<g id="arrowJ" style="mix-blend-mode:multiply" transform="translate(202.2,479.3) rotate(28.5)">
  <path class="sh" style="stroke-width:1.35" fill="url(#gJ)" d="M0,0 L12.4,-13.5 L12.4,-5 L410.2,-5 L410.2,5 L12.4,5 L12.4,13.5 Z"/>
</g>

<!-- LABELS -->
<g id="labels">
  <text x="325.6" y="95" textLength="139" lengthAdjust="spacingAndGlyphs">Low concentration</text>
  <text x="775.7" y="71.1" textLength="32.8" lengthAdjust="spacingAndGlyphs">Low</text>
  <text x="743" y="96" textLength="99.2" lengthAdjust="spacingAndGlyphs">concentration</text>
  <text x="603.5" y="129" textLength="105.5" lengthAdjust="spacingAndGlyphs">Exogenous JA</text>
  <text x="617.6" y="234.4" textLength="38.8" lengthAdjust="spacingAndGlyphs">YUC</text>
  <text x="694.3" y="268.9" textLength="28.3" lengthAdjust="spacingAndGlyphs">IPA</text>
  <text x="806.2" y="269.3" textLength="45" lengthAdjust="spacingAndGlyphs">ASA1</text>
  <text x="433.2" y="268.5" textLength="127.6" lengthAdjust="spacingAndGlyphs">Endogenous IAA</text>
  <text x="304.4" y="327.8" textLength="44.5" lengthAdjust="spacingAndGlyphs">CRL1</text>
  <text x="296.5" y="376" textLength="61.1" lengthAdjust="spacingAndGlyphs">WOX11</text>
  <text x="32.2" y="352.3" textLength="137.3" lengthAdjust="spacingAndGlyphs">ARs differentiation</text>
  <text x="778" y="352.6" textLength="115.8" lengthAdjust="spacingAndGlyphs">Endogenous JA</text>
  <text x="577.5" y="681.5" textLength="117.9" lengthAdjust="spacingAndGlyphs">Exogenous IAA</text>
  <text x="323.1" y="645.8" textLength="50.2" lengthAdjust="spacingAndGlyphs">GH3.8</text>
  <text x="740.7" y="646.8" textLength="39" lengthAdjust="spacingAndGlyphs">LOX</text>
  <text x="274.2" y="703.7" textLength="139.2" lengthAdjust="spacingAndGlyphs">High concentration</text>
  <text transform="translate(862,524.2) rotate(90)" textLength="46.5" lengthAdjust="spacingAndGlyphs">AOS1</text>
  <text transform="translate(282.8,496.2) rotate(30.2)" textLength="139" lengthAdjust="spacingAndGlyphs">Low concentration</text>
</g>
</svg>
</body>
</html>
